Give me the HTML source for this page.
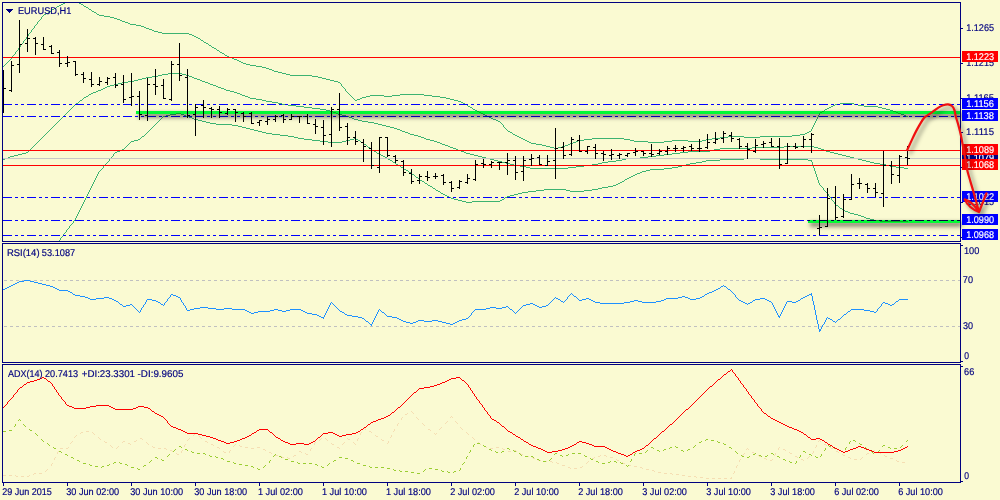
<!DOCTYPE html>
<html><head><meta charset="utf-8"><title>EURUSD,H1</title>
<style>html,body{margin:0;padding:0;background:#FAFAD2;overflow:hidden}svg{display:block}text{font-family:"Liberation Sans",sans-serif;text-rendering:geometricPrecision}</style>
</head><body>
<svg width="1000" height="500" viewBox="0 0 1000 500">
<defs>
<filter id="sh" x="-20%" y="-400%" width="140%" height="900%"><feGaussianBlur stdDeviation="2.2"/></filter>
<filter id="sh2" x="-30%" y="-30%" width="160%" height="160%"><feGaussianBlur stdDeviation="2"/></filter>
</defs>
<rect x="0" y="0" width="1000" height="500" fill="#FAFAD2"/>
<clipPath id="c1"><rect x="3" y="3" width="957" height="238"/></clipPath>
<clipPath id="c2"><rect x="3" y="244" width="957" height="118"/></clipPath>
<clipPath id="c3"><rect x="3" y="365" width="957" height="117"/></clipPath>
<g clip-path="url(#c1)">
<path d="M12.5 56v2M15.5 52v2M18.5 48v2M20.5 45v2M23.5 41v2M26.5 37v2M28.5 34v2M31.5 30v2M34.5 26v2M37.5 22v2M41.5 17v2M341.5 84v2M345.5 89v2M503.5 125v2M811.5 129v2M812.5 127v2M813.5 125v2M814.5 123v2M815.5 121v2M816.5 119v2M817.5 117v2M818.5 115v2M819.5 113v2M63 3.5h2M79 3.5h2M61 4.5h2M81 4.5h2M59 5.5h2M83 5.5h1M57 6.5h2M84 6.5h2M56 7.5h1M86 7.5h2M54 8.5h2M88 8.5h1M52 9.5h2M89 9.5h2M51 10.5h1M91 10.5h1M49 11.5h2M92 11.5h2M48 12.5h1M94 12.5h2M46 13.5h2M96 13.5h1M44 14.5h2M97 14.5h2M43 15.5h1M99 15.5h5M42 16.5h1M104 16.5h6M110 17.5h4M114 18.5h3M40 19.5h1M117 19.5h3M39 20.5h1M120 20.5h2M38 21.5h1M122 21.5h3M125 22.5h3M128 23.5h2M36 24.5h1M130 24.5h6M35 25.5h1M136 25.5h5M141 26.5h3M144 27.5h2M33 28.5h1M146 28.5h3M32 29.5h1M149 29.5h3M152 30.5h2M154 31.5h4M30 32.5h1M158 32.5h4M29 33.5h1M162 33.5h27M189 34.5h3M192 35.5h2M27 36.5h1M194 36.5h2M196 37.5h2M198 38.5h2M25 39.5h1M200 39.5h1M24 40.5h1M201 40.5h2M203 41.5h1M204 42.5h2M22 43.5h1M206 43.5h2M21 44.5h1M208 44.5h1M209 45.5h2M211 46.5h1M19 47.5h1M212 47.5h2M214 48.5h2M216 49.5h1M17 50.5h1M217 50.5h2M16 51.5h1M219 51.5h1M220 52.5h2M222 53.5h2M14 54.5h1M224 54.5h1M13 55.5h1M225 55.5h2M227 56.5h2M229 57.5h3M11 58.5h1M232 58.5h2M10 59.5h1M234 59.5h3M9 60.5h1M237 60.5h2M8 61.5h1M239 61.5h2M7 62.5h1M241 62.5h2M6 63.5h1M243 63.5h3M5 64.5h1M246 64.5h4M4 65.5h1M250 65.5h6M3 66.5h1M256 66.5h6M262 67.5h4M266 68.5h3M269 69.5h3M272 70.5h2M274 71.5h4M278 72.5h4M282 73.5h4M286 74.5h4M290 75.5h22M312 76.5h6M318 77.5h4M322 78.5h4M326 79.5h4M330 80.5h4M334 81.5h4M338 82.5h2M340 83.5h1M342 86.5h1M343 87.5h1M344 88.5h1M346 91.5h1M347 92.5h1M348 93.5h1M349 94.5h1M400 94.5h24M350 95.5h1M370 95.5h14M392 95.5h8M424 95.5h8M351 96.5h1M366 96.5h4M384 96.5h8M432 96.5h8M352 97.5h1M362 97.5h4M440 97.5h6M353 98.5h1M360 98.5h2M446 98.5h4M354 99.5h1M357 99.5h3M450 99.5h4M355 100.5h2M454 100.5h4M458 101.5h3M461 102.5h2M463 103.5h2M840 103.5h14M465 104.5h2M835 104.5h5M854 104.5h4M467 105.5h1M833 105.5h2M858 105.5h6M468 106.5h2M831 106.5h2M864 106.5h14M470 107.5h2M829 107.5h2M878 107.5h4M472 108.5h1M827 108.5h2M882 108.5h4M473 109.5h2M825 109.5h2M886 109.5h4M475 110.5h2M824 110.5h1M890 110.5h3M477 111.5h2M822 111.5h2M893 111.5h3M479 112.5h2M820 112.5h2M896 112.5h2M481 113.5h2M898 113.5h3M483 114.5h2M901 114.5h3M485 115.5h2M904 115.5h2M487 116.5h2M906 116.5h2M489 117.5h2M491 118.5h2M493 119.5h3M496 120.5h2M498 121.5h2M500 122.5h1M501 123.5h1M502 124.5h1M504 127.5h1M505 128.5h1M506 129.5h1M507 130.5h1M508 131.5h2M809 131.5h2M510 132.5h2M807 132.5h2M512 133.5h1M805 133.5h2M513 134.5h2M800 134.5h5M515 135.5h2M792 135.5h8M517 136.5h2M728 136.5h16M760 136.5h32M519 137.5h2M720 137.5h8M744 137.5h16M521 138.5h2M592 138.5h32M712 138.5h8M523 139.5h2M584 139.5h8M624 139.5h6M706 139.5h6M525 140.5h2M578 140.5h6M630 140.5h4M672 140.5h16M702 140.5h4M527 141.5h2M576 141.5h2M634 141.5h14M664 141.5h8M688 141.5h14M529 142.5h2M573 142.5h3M648 142.5h16M531 143.5h5M570 143.5h3M536 144.5h6M568 144.5h2M542 145.5h4M565 145.5h3M546 146.5h4M562 146.5h3M550 147.5h4M558 147.5h4M554 148.5h4" fill="none" stroke="#3CB371" stroke-width="1" shape-rendering="crispEdges"/>
<path d="M168 73.5h14M162 74.5h6M182 74.5h4M158 75.5h4M186 75.5h3M152 76.5h6M189 76.5h3M146 77.5h6M192 77.5h2M142 78.5h4M194 78.5h3M138 79.5h4M197 79.5h3M134 80.5h4M200 80.5h2M128 81.5h6M202 81.5h3M122 82.5h6M205 82.5h3M118 83.5h4M208 83.5h2M114 84.5h4M210 84.5h3M110 85.5h4M213 85.5h3M107 86.5h3M216 86.5h2M105 87.5h2M218 87.5h3M103 88.5h2M221 88.5h3M101 89.5h2M224 89.5h2M98 90.5h3M226 90.5h4M96 91.5h2M230 91.5h4M93 92.5h3M234 92.5h3M91 93.5h2M237 93.5h3M89 94.5h2M240 94.5h2M88 95.5h1M242 95.5h3M86 96.5h2M245 96.5h3M84 97.5h2M248 97.5h2M83 98.5h1M250 98.5h6M82 99.5h1M256 99.5h6M80 100.5h2M262 100.5h4M79 101.5h1M266 101.5h6M78 102.5h1M272 102.5h6M76 103.5h2M278 103.5h4M75 104.5h1M282 104.5h6M74 105.5h1M288 105.5h8M73 106.5h1M296 106.5h8M72 107.5h1M304 107.5h8M71 108.5h1M312 108.5h8M70 109.5h1M320 109.5h6M69 110.5h1M326 110.5h4M68 111.5h1M330 111.5h3M67 112.5h1M333 112.5h3M66 113.5h1M336 113.5h2M65 114.5h1M338 114.5h4M64 115.5h1M342 115.5h4M63 116.5h1M346 116.5h3M62 117.5h1M349 117.5h3M61 118.5h1M352 118.5h2M60 119.5h1M354 119.5h4M59 120.5h1M358 120.5h4M58 121.5h1M362 121.5h6M57 122.5h1M368 122.5h6M56 123.5h1M374 123.5h4M55 124.5h1M378 124.5h4M54 125.5h1M382 125.5h4M53 126.5h1M386 126.5h4M52 127.5h1M390 127.5h4M51 128.5h1M394 128.5h3M50 129.5h1M397 129.5h3M49 130.5h1M400 130.5h2M48 131.5h1M402 131.5h3M47 132.5h1M405 132.5h3M46 133.5h1M408 133.5h2M45 134.5h1M410 134.5h4M44 135.5h1M414 135.5h4M43 136.5h1M418 136.5h3M42 137.5h1M421 137.5h3M41 138.5h1M424 138.5h2M40 139.5h1M426 139.5h4M39 140.5h1M430 140.5h4M38 141.5h1M434 141.5h3M37 142.5h1M437 142.5h3M36 143.5h1M440 143.5h2M35 144.5h1M442 144.5h3M34 145.5h1M445 145.5h3M33 146.5h1M448 146.5h2M784 146.5h30M32 147.5h1M450 147.5h3M752 147.5h32M814 147.5h4M31 148.5h1M453 148.5h3M720 148.5h32M818 148.5h3M30 149.5h1M456 149.5h2M714 149.5h6M821 149.5h3M29 150.5h1M458 150.5h3M710 150.5h4M824 150.5h2M28 151.5h1M461 151.5h3M688 151.5h22M826 151.5h4M26 152.5h2M464 152.5h2M680 152.5h8M830 152.5h4M22 153.5h4M466 153.5h4M672 153.5h8M834 153.5h4M18 154.5h4M470 154.5h4M664 154.5h8M838 154.5h4M14 155.5h4M474 155.5h4M656 155.5h8M842 155.5h4M10 156.5h4M478 156.5h4M648 156.5h8M846 156.5h4M8 157.5h2M482 157.5h4M640 157.5h8M850 157.5h4M5 158.5h3M486 158.5h4M626 158.5h14M854 158.5h4M3 159.5h2M490 159.5h4M622 159.5h4M858 159.5h4M494 160.5h4M616 160.5h6M862 160.5h4M498 161.5h4M608 161.5h8M866 161.5h4M502 162.5h4M602 162.5h6M870 162.5h4M506 163.5h4M598 163.5h4M874 163.5h6M510 164.5h4M592 164.5h6M880 164.5h6M514 165.5h6M584 165.5h8M886 165.5h4M520 166.5h6M576 166.5h8M890 166.5h6M526 167.5h4M568 167.5h8M896 167.5h8M530 168.5h38M904 168.5h4" fill="none" stroke="#3CB371" stroke-width="1" shape-rendering="crispEdges"/>
<path d="M60.5 238v2M63.5 234v2M66.5 230v2M69.5 226v2M73.5 221v2M75.5 218v2M76.5 216v2M77.5 214v2M78.5 212v2M79.5 210v2M80.5 208v2M81.5 206v2M82.5 204v2M83.5 202v2M84.5 200v2M85.5 198v2M86.5 196v2M87.5 194v2M88.5 192v2M89.5 190v2M90.5 188v2M91.5 186v2M92.5 184v2M93.5 182v2M94.5 180v2M95.5 178v2M96.5 176v2M97.5 174v2M98.5 172v2M103.5 166v2M109.5 159v2M113.5 154v2M811.5 160v2M812.5 162v3M813.5 165v3M814.5 168v3M815.5 171v3M816.5 174v3M817.5 177v3M818.5 180v3M819.5 183v2M823.5 188v2M828.5 194v2M831.5 198v2M834.5 202v2M176 113.5h5M170 114.5h6M181 114.5h3M166 115.5h4M184 115.5h2M163 116.5h3M186 116.5h3M162 117.5h1M189 117.5h3M161 118.5h1M192 118.5h2M160 119.5h1M194 119.5h4M159 120.5h1M198 120.5h4M158 121.5h1M202 121.5h4M157 122.5h1M206 122.5h4M156 123.5h1M210 123.5h6M155 124.5h1M216 124.5h16M154 125.5h1M232 125.5h6M153 126.5h1M238 126.5h4M152 127.5h1M242 127.5h4M151 128.5h1M246 128.5h4M150 129.5h1M250 129.5h4M149 130.5h1M254 130.5h4M148 131.5h1M258 131.5h4M147 132.5h1M262 132.5h4M146 133.5h1M266 133.5h6M145 134.5h1M272 134.5h8M144 135.5h1M280 135.5h8M142 136.5h2M288 136.5h6M141 137.5h1M294 137.5h4M140 138.5h1M298 138.5h6M354 138.5h2M138 139.5h2M304 139.5h8M350 139.5h4M356 139.5h2M134 140.5h4M312 140.5h8M346 140.5h4M358 140.5h2M131 141.5h3M320 141.5h8M342 141.5h4M360 141.5h1M130 142.5h1M328 142.5h14M361 142.5h2M129 143.5h1M363 143.5h1M128 144.5h1M364 144.5h2M127 145.5h1M366 145.5h1M126 146.5h1M367 146.5h1M125 147.5h1M368 147.5h2M124 148.5h1M370 148.5h1M122 149.5h2M371 149.5h1M120 150.5h2M372 150.5h2M117 151.5h3M374 151.5h2M115 152.5h2M376 152.5h1M114 153.5h1M377 153.5h2M379 154.5h2M381 155.5h2M112 156.5h1M383 156.5h2M111 157.5h1M385 157.5h2M110 158.5h1M387 158.5h1M744 158.5h16M388 159.5h2M720 159.5h24M760 159.5h48M390 160.5h2M706 160.5h14M808 160.5h3M108 161.5h1M392 161.5h1M702 161.5h4M107 162.5h1M393 162.5h2M696 162.5h6M106 163.5h1M395 163.5h1M690 163.5h6M105 164.5h1M396 164.5h2M686 164.5h4M104 165.5h1M398 165.5h2M682 165.5h4M400 166.5h1M678 166.5h4M401 167.5h2M672 167.5h6M102 168.5h1M403 168.5h1M664 168.5h8M101 169.5h1M404 169.5h2M650 169.5h14M100 170.5h1M406 170.5h2M646 170.5h4M99 171.5h1M408 171.5h1M642 171.5h4M409 172.5h2M640 172.5h2M411 173.5h1M637 173.5h3M412 174.5h2M635 174.5h2M414 175.5h1M633 175.5h2M415 176.5h1M631 176.5h2M416 177.5h2M629 177.5h2M418 178.5h1M627 178.5h2M419 179.5h1M625 179.5h2M420 180.5h2M624 180.5h1M422 181.5h2M622 181.5h2M424 182.5h1M620 182.5h2M425 183.5h2M618 183.5h2M427 184.5h1M616 184.5h2M428 185.5h2M613 185.5h3M820 185.5h1M430 186.5h2M608 186.5h5M821 186.5h1M432 187.5h1M602 187.5h6M822 187.5h1M433 188.5h2M598 188.5h4M435 189.5h1M544 189.5h22M592 189.5h6M436 190.5h2M536 190.5h8M566 190.5h4M584 190.5h8M824 190.5h1M438 191.5h2M528 191.5h8M570 191.5h14M825 191.5h1M440 192.5h1M522 192.5h6M826 192.5h1M441 193.5h2M518 193.5h4M827 193.5h1M443 194.5h2M514 194.5h4M445 195.5h2M510 195.5h4M447 196.5h2M507 196.5h3M829 196.5h1M449 197.5h2M505 197.5h2M830 197.5h1M451 198.5h3M504 198.5h1M454 199.5h4M502 199.5h2M458 200.5h4M500 200.5h2M832 200.5h1M462 201.5h4M472 201.5h28M833 201.5h1M466 202.5h6M835 204.5h1M836 205.5h2M838 206.5h1M839 207.5h1M840 208.5h2M842 209.5h1M843 210.5h2M845 211.5h3M848 212.5h2M850 213.5h4M854 214.5h4M858 215.5h3M861 216.5h3M864 217.5h2M866 218.5h4M870 219.5h4M74 220.5h1M874 220.5h6M880 221.5h28M72 223.5h1M71 224.5h1M70 225.5h1M68 228.5h1M67 229.5h1M65 232.5h1M64 233.5h1M62 236.5h1M61 237.5h1M59 240.5h1" fill="none" stroke="#3CB371" stroke-width="1" shape-rendering="crispEdges"/>
<rect x="3" y="158" width="957" height="1" fill="#C8C8C8"/>
<rect x="3" y="57" width="957" height="1" fill="#FF0000"/>
<rect x="3" y="150" width="957" height="1" fill="#FF0000"/>
<rect x="3" y="165" width="957" height="1" fill="#FF0000"/>
<rect x="3" y="104" width="9" height="1" fill="#0000FF"/>
<rect x="15" y="104" width="3" height="1" fill="#0000FF"/>
<rect x="21" y="104" width="3" height="1" fill="#0000FF"/>
<rect x="27" y="104" width="9" height="1" fill="#0000FF"/>
<rect x="39" y="104" width="3" height="1" fill="#0000FF"/>
<rect x="45" y="104" width="3" height="1" fill="#0000FF"/>
<rect x="51" y="104" width="9" height="1" fill="#0000FF"/>
<rect x="63" y="104" width="3" height="1" fill="#0000FF"/>
<rect x="69" y="104" width="3" height="1" fill="#0000FF"/>
<rect x="75" y="104" width="9" height="1" fill="#0000FF"/>
<rect x="87" y="104" width="3" height="1" fill="#0000FF"/>
<rect x="93" y="104" width="3" height="1" fill="#0000FF"/>
<rect x="99" y="104" width="9" height="1" fill="#0000FF"/>
<rect x="111" y="104" width="3" height="1" fill="#0000FF"/>
<rect x="117" y="104" width="3" height="1" fill="#0000FF"/>
<rect x="123" y="104" width="9" height="1" fill="#0000FF"/>
<rect x="135" y="104" width="3" height="1" fill="#0000FF"/>
<rect x="141" y="104" width="3" height="1" fill="#0000FF"/>
<rect x="147" y="104" width="9" height="1" fill="#0000FF"/>
<rect x="159" y="104" width="3" height="1" fill="#0000FF"/>
<rect x="165" y="104" width="3" height="1" fill="#0000FF"/>
<rect x="171" y="104" width="9" height="1" fill="#0000FF"/>
<rect x="183" y="104" width="3" height="1" fill="#0000FF"/>
<rect x="189" y="104" width="3" height="1" fill="#0000FF"/>
<rect x="195" y="104" width="9" height="1" fill="#0000FF"/>
<rect x="207" y="104" width="3" height="1" fill="#0000FF"/>
<rect x="213" y="104" width="3" height="1" fill="#0000FF"/>
<rect x="219" y="104" width="9" height="1" fill="#0000FF"/>
<rect x="231" y="104" width="3" height="1" fill="#0000FF"/>
<rect x="237" y="104" width="3" height="1" fill="#0000FF"/>
<rect x="243" y="104" width="9" height="1" fill="#0000FF"/>
<rect x="255" y="104" width="3" height="1" fill="#0000FF"/>
<rect x="261" y="104" width="3" height="1" fill="#0000FF"/>
<rect x="267" y="104" width="9" height="1" fill="#0000FF"/>
<rect x="279" y="104" width="3" height="1" fill="#0000FF"/>
<rect x="285" y="104" width="3" height="1" fill="#0000FF"/>
<rect x="291" y="104" width="9" height="1" fill="#0000FF"/>
<rect x="303" y="104" width="3" height="1" fill="#0000FF"/>
<rect x="309" y="104" width="3" height="1" fill="#0000FF"/>
<rect x="315" y="104" width="9" height="1" fill="#0000FF"/>
<rect x="327" y="104" width="3" height="1" fill="#0000FF"/>
<rect x="333" y="104" width="3" height="1" fill="#0000FF"/>
<rect x="339" y="104" width="9" height="1" fill="#0000FF"/>
<rect x="351" y="104" width="3" height="1" fill="#0000FF"/>
<rect x="357" y="104" width="3" height="1" fill="#0000FF"/>
<rect x="363" y="104" width="9" height="1" fill="#0000FF"/>
<rect x="375" y="104" width="3" height="1" fill="#0000FF"/>
<rect x="381" y="104" width="3" height="1" fill="#0000FF"/>
<rect x="387" y="104" width="9" height="1" fill="#0000FF"/>
<rect x="399" y="104" width="3" height="1" fill="#0000FF"/>
<rect x="405" y="104" width="3" height="1" fill="#0000FF"/>
<rect x="411" y="104" width="9" height="1" fill="#0000FF"/>
<rect x="423" y="104" width="3" height="1" fill="#0000FF"/>
<rect x="429" y="104" width="3" height="1" fill="#0000FF"/>
<rect x="435" y="104" width="9" height="1" fill="#0000FF"/>
<rect x="447" y="104" width="3" height="1" fill="#0000FF"/>
<rect x="453" y="104" width="3" height="1" fill="#0000FF"/>
<rect x="459" y="104" width="9" height="1" fill="#0000FF"/>
<rect x="471" y="104" width="3" height="1" fill="#0000FF"/>
<rect x="477" y="104" width="3" height="1" fill="#0000FF"/>
<rect x="483" y="104" width="9" height="1" fill="#0000FF"/>
<rect x="495" y="104" width="3" height="1" fill="#0000FF"/>
<rect x="501" y="104" width="3" height="1" fill="#0000FF"/>
<rect x="507" y="104" width="9" height="1" fill="#0000FF"/>
<rect x="519" y="104" width="3" height="1" fill="#0000FF"/>
<rect x="525" y="104" width="3" height="1" fill="#0000FF"/>
<rect x="531" y="104" width="9" height="1" fill="#0000FF"/>
<rect x="543" y="104" width="3" height="1" fill="#0000FF"/>
<rect x="549" y="104" width="3" height="1" fill="#0000FF"/>
<rect x="555" y="104" width="9" height="1" fill="#0000FF"/>
<rect x="567" y="104" width="3" height="1" fill="#0000FF"/>
<rect x="573" y="104" width="3" height="1" fill="#0000FF"/>
<rect x="579" y="104" width="9" height="1" fill="#0000FF"/>
<rect x="591" y="104" width="3" height="1" fill="#0000FF"/>
<rect x="597" y="104" width="3" height="1" fill="#0000FF"/>
<rect x="603" y="104" width="9" height="1" fill="#0000FF"/>
<rect x="615" y="104" width="3" height="1" fill="#0000FF"/>
<rect x="621" y="104" width="3" height="1" fill="#0000FF"/>
<rect x="627" y="104" width="9" height="1" fill="#0000FF"/>
<rect x="639" y="104" width="3" height="1" fill="#0000FF"/>
<rect x="645" y="104" width="3" height="1" fill="#0000FF"/>
<rect x="651" y="104" width="9" height="1" fill="#0000FF"/>
<rect x="663" y="104" width="3" height="1" fill="#0000FF"/>
<rect x="669" y="104" width="3" height="1" fill="#0000FF"/>
<rect x="675" y="104" width="9" height="1" fill="#0000FF"/>
<rect x="687" y="104" width="3" height="1" fill="#0000FF"/>
<rect x="693" y="104" width="3" height="1" fill="#0000FF"/>
<rect x="699" y="104" width="9" height="1" fill="#0000FF"/>
<rect x="711" y="104" width="3" height="1" fill="#0000FF"/>
<rect x="717" y="104" width="3" height="1" fill="#0000FF"/>
<rect x="723" y="104" width="9" height="1" fill="#0000FF"/>
<rect x="735" y="104" width="3" height="1" fill="#0000FF"/>
<rect x="741" y="104" width="3" height="1" fill="#0000FF"/>
<rect x="747" y="104" width="9" height="1" fill="#0000FF"/>
<rect x="759" y="104" width="3" height="1" fill="#0000FF"/>
<rect x="765" y="104" width="3" height="1" fill="#0000FF"/>
<rect x="771" y="104" width="9" height="1" fill="#0000FF"/>
<rect x="783" y="104" width="3" height="1" fill="#0000FF"/>
<rect x="789" y="104" width="3" height="1" fill="#0000FF"/>
<rect x="795" y="104" width="9" height="1" fill="#0000FF"/>
<rect x="807" y="104" width="3" height="1" fill="#0000FF"/>
<rect x="813" y="104" width="3" height="1" fill="#0000FF"/>
<rect x="819" y="104" width="9" height="1" fill="#0000FF"/>
<rect x="831" y="104" width="3" height="1" fill="#0000FF"/>
<rect x="837" y="104" width="3" height="1" fill="#0000FF"/>
<rect x="843" y="104" width="9" height="1" fill="#0000FF"/>
<rect x="855" y="104" width="3" height="1" fill="#0000FF"/>
<rect x="861" y="104" width="3" height="1" fill="#0000FF"/>
<rect x="867" y="104" width="9" height="1" fill="#0000FF"/>
<rect x="879" y="104" width="3" height="1" fill="#0000FF"/>
<rect x="885" y="104" width="3" height="1" fill="#0000FF"/>
<rect x="891" y="104" width="9" height="1" fill="#0000FF"/>
<rect x="903" y="104" width="3" height="1" fill="#0000FF"/>
<rect x="909" y="104" width="3" height="1" fill="#0000FF"/>
<rect x="915" y="104" width="9" height="1" fill="#0000FF"/>
<rect x="927" y="104" width="3" height="1" fill="#0000FF"/>
<rect x="933" y="104" width="3" height="1" fill="#0000FF"/>
<rect x="939" y="104" width="9" height="1" fill="#0000FF"/>
<rect x="951" y="104" width="3" height="1" fill="#0000FF"/>
<rect x="957" y="104" width="3" height="1" fill="#0000FF"/>
<rect x="3" y="116" width="9" height="1" fill="#0000FF"/>
<rect x="15" y="116" width="3" height="1" fill="#0000FF"/>
<rect x="21" y="116" width="3" height="1" fill="#0000FF"/>
<rect x="27" y="116" width="9" height="1" fill="#0000FF"/>
<rect x="39" y="116" width="3" height="1" fill="#0000FF"/>
<rect x="45" y="116" width="3" height="1" fill="#0000FF"/>
<rect x="51" y="116" width="9" height="1" fill="#0000FF"/>
<rect x="63" y="116" width="3" height="1" fill="#0000FF"/>
<rect x="69" y="116" width="3" height="1" fill="#0000FF"/>
<rect x="75" y="116" width="9" height="1" fill="#0000FF"/>
<rect x="87" y="116" width="3" height="1" fill="#0000FF"/>
<rect x="93" y="116" width="3" height="1" fill="#0000FF"/>
<rect x="99" y="116" width="9" height="1" fill="#0000FF"/>
<rect x="111" y="116" width="3" height="1" fill="#0000FF"/>
<rect x="117" y="116" width="3" height="1" fill="#0000FF"/>
<rect x="123" y="116" width="9" height="1" fill="#0000FF"/>
<rect x="135" y="116" width="3" height="1" fill="#0000FF"/>
<rect x="141" y="116" width="3" height="1" fill="#0000FF"/>
<rect x="147" y="116" width="9" height="1" fill="#0000FF"/>
<rect x="159" y="116" width="3" height="1" fill="#0000FF"/>
<rect x="165" y="116" width="3" height="1" fill="#0000FF"/>
<rect x="171" y="116" width="9" height="1" fill="#0000FF"/>
<rect x="183" y="116" width="3" height="1" fill="#0000FF"/>
<rect x="189" y="116" width="3" height="1" fill="#0000FF"/>
<rect x="195" y="116" width="9" height="1" fill="#0000FF"/>
<rect x="207" y="116" width="3" height="1" fill="#0000FF"/>
<rect x="213" y="116" width="3" height="1" fill="#0000FF"/>
<rect x="219" y="116" width="9" height="1" fill="#0000FF"/>
<rect x="231" y="116" width="3" height="1" fill="#0000FF"/>
<rect x="237" y="116" width="3" height="1" fill="#0000FF"/>
<rect x="243" y="116" width="9" height="1" fill="#0000FF"/>
<rect x="255" y="116" width="3" height="1" fill="#0000FF"/>
<rect x="261" y="116" width="3" height="1" fill="#0000FF"/>
<rect x="267" y="116" width="9" height="1" fill="#0000FF"/>
<rect x="279" y="116" width="3" height="1" fill="#0000FF"/>
<rect x="285" y="116" width="3" height="1" fill="#0000FF"/>
<rect x="291" y="116" width="9" height="1" fill="#0000FF"/>
<rect x="303" y="116" width="3" height="1" fill="#0000FF"/>
<rect x="309" y="116" width="3" height="1" fill="#0000FF"/>
<rect x="315" y="116" width="9" height="1" fill="#0000FF"/>
<rect x="327" y="116" width="3" height="1" fill="#0000FF"/>
<rect x="333" y="116" width="3" height="1" fill="#0000FF"/>
<rect x="339" y="116" width="9" height="1" fill="#0000FF"/>
<rect x="351" y="116" width="3" height="1" fill="#0000FF"/>
<rect x="357" y="116" width="3" height="1" fill="#0000FF"/>
<rect x="363" y="116" width="9" height="1" fill="#0000FF"/>
<rect x="375" y="116" width="3" height="1" fill="#0000FF"/>
<rect x="381" y="116" width="3" height="1" fill="#0000FF"/>
<rect x="387" y="116" width="9" height="1" fill="#0000FF"/>
<rect x="399" y="116" width="3" height="1" fill="#0000FF"/>
<rect x="405" y="116" width="3" height="1" fill="#0000FF"/>
<rect x="411" y="116" width="9" height="1" fill="#0000FF"/>
<rect x="423" y="116" width="3" height="1" fill="#0000FF"/>
<rect x="429" y="116" width="3" height="1" fill="#0000FF"/>
<rect x="435" y="116" width="9" height="1" fill="#0000FF"/>
<rect x="447" y="116" width="3" height="1" fill="#0000FF"/>
<rect x="453" y="116" width="3" height="1" fill="#0000FF"/>
<rect x="459" y="116" width="9" height="1" fill="#0000FF"/>
<rect x="471" y="116" width="3" height="1" fill="#0000FF"/>
<rect x="477" y="116" width="3" height="1" fill="#0000FF"/>
<rect x="483" y="116" width="9" height="1" fill="#0000FF"/>
<rect x="495" y="116" width="3" height="1" fill="#0000FF"/>
<rect x="501" y="116" width="3" height="1" fill="#0000FF"/>
<rect x="507" y="116" width="9" height="1" fill="#0000FF"/>
<rect x="519" y="116" width="3" height="1" fill="#0000FF"/>
<rect x="525" y="116" width="3" height="1" fill="#0000FF"/>
<rect x="531" y="116" width="9" height="1" fill="#0000FF"/>
<rect x="543" y="116" width="3" height="1" fill="#0000FF"/>
<rect x="549" y="116" width="3" height="1" fill="#0000FF"/>
<rect x="555" y="116" width="9" height="1" fill="#0000FF"/>
<rect x="567" y="116" width="3" height="1" fill="#0000FF"/>
<rect x="573" y="116" width="3" height="1" fill="#0000FF"/>
<rect x="579" y="116" width="9" height="1" fill="#0000FF"/>
<rect x="591" y="116" width="3" height="1" fill="#0000FF"/>
<rect x="597" y="116" width="3" height="1" fill="#0000FF"/>
<rect x="603" y="116" width="9" height="1" fill="#0000FF"/>
<rect x="615" y="116" width="3" height="1" fill="#0000FF"/>
<rect x="621" y="116" width="3" height="1" fill="#0000FF"/>
<rect x="627" y="116" width="9" height="1" fill="#0000FF"/>
<rect x="639" y="116" width="3" height="1" fill="#0000FF"/>
<rect x="645" y="116" width="3" height="1" fill="#0000FF"/>
<rect x="651" y="116" width="9" height="1" fill="#0000FF"/>
<rect x="663" y="116" width="3" height="1" fill="#0000FF"/>
<rect x="669" y="116" width="3" height="1" fill="#0000FF"/>
<rect x="675" y="116" width="9" height="1" fill="#0000FF"/>
<rect x="687" y="116" width="3" height="1" fill="#0000FF"/>
<rect x="693" y="116" width="3" height="1" fill="#0000FF"/>
<rect x="699" y="116" width="9" height="1" fill="#0000FF"/>
<rect x="711" y="116" width="3" height="1" fill="#0000FF"/>
<rect x="717" y="116" width="3" height="1" fill="#0000FF"/>
<rect x="723" y="116" width="9" height="1" fill="#0000FF"/>
<rect x="735" y="116" width="3" height="1" fill="#0000FF"/>
<rect x="741" y="116" width="3" height="1" fill="#0000FF"/>
<rect x="747" y="116" width="9" height="1" fill="#0000FF"/>
<rect x="759" y="116" width="3" height="1" fill="#0000FF"/>
<rect x="765" y="116" width="3" height="1" fill="#0000FF"/>
<rect x="771" y="116" width="9" height="1" fill="#0000FF"/>
<rect x="783" y="116" width="3" height="1" fill="#0000FF"/>
<rect x="789" y="116" width="3" height="1" fill="#0000FF"/>
<rect x="795" y="116" width="9" height="1" fill="#0000FF"/>
<rect x="807" y="116" width="3" height="1" fill="#0000FF"/>
<rect x="813" y="116" width="3" height="1" fill="#0000FF"/>
<rect x="819" y="116" width="9" height="1" fill="#0000FF"/>
<rect x="831" y="116" width="3" height="1" fill="#0000FF"/>
<rect x="837" y="116" width="3" height="1" fill="#0000FF"/>
<rect x="843" y="116" width="9" height="1" fill="#0000FF"/>
<rect x="855" y="116" width="3" height="1" fill="#0000FF"/>
<rect x="861" y="116" width="3" height="1" fill="#0000FF"/>
<rect x="867" y="116" width="9" height="1" fill="#0000FF"/>
<rect x="879" y="116" width="3" height="1" fill="#0000FF"/>
<rect x="885" y="116" width="3" height="1" fill="#0000FF"/>
<rect x="891" y="116" width="9" height="1" fill="#0000FF"/>
<rect x="903" y="116" width="3" height="1" fill="#0000FF"/>
<rect x="909" y="116" width="3" height="1" fill="#0000FF"/>
<rect x="915" y="116" width="9" height="1" fill="#0000FF"/>
<rect x="927" y="116" width="3" height="1" fill="#0000FF"/>
<rect x="933" y="116" width="3" height="1" fill="#0000FF"/>
<rect x="939" y="116" width="9" height="1" fill="#0000FF"/>
<rect x="951" y="116" width="3" height="1" fill="#0000FF"/>
<rect x="957" y="116" width="3" height="1" fill="#0000FF"/>
<rect x="3" y="197" width="9" height="1" fill="#0000FF"/>
<rect x="15" y="197" width="3" height="1" fill="#0000FF"/>
<rect x="21" y="197" width="3" height="1" fill="#0000FF"/>
<rect x="27" y="197" width="9" height="1" fill="#0000FF"/>
<rect x="39" y="197" width="3" height="1" fill="#0000FF"/>
<rect x="45" y="197" width="3" height="1" fill="#0000FF"/>
<rect x="51" y="197" width="9" height="1" fill="#0000FF"/>
<rect x="63" y="197" width="3" height="1" fill="#0000FF"/>
<rect x="69" y="197" width="3" height="1" fill="#0000FF"/>
<rect x="75" y="197" width="9" height="1" fill="#0000FF"/>
<rect x="87" y="197" width="3" height="1" fill="#0000FF"/>
<rect x="93" y="197" width="3" height="1" fill="#0000FF"/>
<rect x="99" y="197" width="9" height="1" fill="#0000FF"/>
<rect x="111" y="197" width="3" height="1" fill="#0000FF"/>
<rect x="117" y="197" width="3" height="1" fill="#0000FF"/>
<rect x="123" y="197" width="9" height="1" fill="#0000FF"/>
<rect x="135" y="197" width="3" height="1" fill="#0000FF"/>
<rect x="141" y="197" width="3" height="1" fill="#0000FF"/>
<rect x="147" y="197" width="9" height="1" fill="#0000FF"/>
<rect x="159" y="197" width="3" height="1" fill="#0000FF"/>
<rect x="165" y="197" width="3" height="1" fill="#0000FF"/>
<rect x="171" y="197" width="9" height="1" fill="#0000FF"/>
<rect x="183" y="197" width="3" height="1" fill="#0000FF"/>
<rect x="189" y="197" width="3" height="1" fill="#0000FF"/>
<rect x="195" y="197" width="9" height="1" fill="#0000FF"/>
<rect x="207" y="197" width="3" height="1" fill="#0000FF"/>
<rect x="213" y="197" width="3" height="1" fill="#0000FF"/>
<rect x="219" y="197" width="9" height="1" fill="#0000FF"/>
<rect x="231" y="197" width="3" height="1" fill="#0000FF"/>
<rect x="237" y="197" width="3" height="1" fill="#0000FF"/>
<rect x="243" y="197" width="9" height="1" fill="#0000FF"/>
<rect x="255" y="197" width="3" height="1" fill="#0000FF"/>
<rect x="261" y="197" width="3" height="1" fill="#0000FF"/>
<rect x="267" y="197" width="9" height="1" fill="#0000FF"/>
<rect x="279" y="197" width="3" height="1" fill="#0000FF"/>
<rect x="285" y="197" width="3" height="1" fill="#0000FF"/>
<rect x="291" y="197" width="9" height="1" fill="#0000FF"/>
<rect x="303" y="197" width="3" height="1" fill="#0000FF"/>
<rect x="309" y="197" width="3" height="1" fill="#0000FF"/>
<rect x="315" y="197" width="9" height="1" fill="#0000FF"/>
<rect x="327" y="197" width="3" height="1" fill="#0000FF"/>
<rect x="333" y="197" width="3" height="1" fill="#0000FF"/>
<rect x="339" y="197" width="9" height="1" fill="#0000FF"/>
<rect x="351" y="197" width="3" height="1" fill="#0000FF"/>
<rect x="357" y="197" width="3" height="1" fill="#0000FF"/>
<rect x="363" y="197" width="9" height="1" fill="#0000FF"/>
<rect x="375" y="197" width="3" height="1" fill="#0000FF"/>
<rect x="381" y="197" width="3" height="1" fill="#0000FF"/>
<rect x="387" y="197" width="9" height="1" fill="#0000FF"/>
<rect x="399" y="197" width="3" height="1" fill="#0000FF"/>
<rect x="405" y="197" width="3" height="1" fill="#0000FF"/>
<rect x="411" y="197" width="9" height="1" fill="#0000FF"/>
<rect x="423" y="197" width="3" height="1" fill="#0000FF"/>
<rect x="429" y="197" width="3" height="1" fill="#0000FF"/>
<rect x="435" y="197" width="9" height="1" fill="#0000FF"/>
<rect x="447" y="197" width="3" height="1" fill="#0000FF"/>
<rect x="453" y="197" width="3" height="1" fill="#0000FF"/>
<rect x="459" y="197" width="9" height="1" fill="#0000FF"/>
<rect x="471" y="197" width="3" height="1" fill="#0000FF"/>
<rect x="477" y="197" width="3" height="1" fill="#0000FF"/>
<rect x="483" y="197" width="9" height="1" fill="#0000FF"/>
<rect x="495" y="197" width="3" height="1" fill="#0000FF"/>
<rect x="501" y="197" width="3" height="1" fill="#0000FF"/>
<rect x="507" y="197" width="9" height="1" fill="#0000FF"/>
<rect x="519" y="197" width="3" height="1" fill="#0000FF"/>
<rect x="525" y="197" width="3" height="1" fill="#0000FF"/>
<rect x="531" y="197" width="9" height="1" fill="#0000FF"/>
<rect x="543" y="197" width="3" height="1" fill="#0000FF"/>
<rect x="549" y="197" width="3" height="1" fill="#0000FF"/>
<rect x="555" y="197" width="9" height="1" fill="#0000FF"/>
<rect x="567" y="197" width="3" height="1" fill="#0000FF"/>
<rect x="573" y="197" width="3" height="1" fill="#0000FF"/>
<rect x="579" y="197" width="9" height="1" fill="#0000FF"/>
<rect x="591" y="197" width="3" height="1" fill="#0000FF"/>
<rect x="597" y="197" width="3" height="1" fill="#0000FF"/>
<rect x="603" y="197" width="9" height="1" fill="#0000FF"/>
<rect x="615" y="197" width="3" height="1" fill="#0000FF"/>
<rect x="621" y="197" width="3" height="1" fill="#0000FF"/>
<rect x="627" y="197" width="9" height="1" fill="#0000FF"/>
<rect x="639" y="197" width="3" height="1" fill="#0000FF"/>
<rect x="645" y="197" width="3" height="1" fill="#0000FF"/>
<rect x="651" y="197" width="9" height="1" fill="#0000FF"/>
<rect x="663" y="197" width="3" height="1" fill="#0000FF"/>
<rect x="669" y="197" width="3" height="1" fill="#0000FF"/>
<rect x="675" y="197" width="9" height="1" fill="#0000FF"/>
<rect x="687" y="197" width="3" height="1" fill="#0000FF"/>
<rect x="693" y="197" width="3" height="1" fill="#0000FF"/>
<rect x="699" y="197" width="9" height="1" fill="#0000FF"/>
<rect x="711" y="197" width="3" height="1" fill="#0000FF"/>
<rect x="717" y="197" width="3" height="1" fill="#0000FF"/>
<rect x="723" y="197" width="9" height="1" fill="#0000FF"/>
<rect x="735" y="197" width="3" height="1" fill="#0000FF"/>
<rect x="741" y="197" width="3" height="1" fill="#0000FF"/>
<rect x="747" y="197" width="9" height="1" fill="#0000FF"/>
<rect x="759" y="197" width="3" height="1" fill="#0000FF"/>
<rect x="765" y="197" width="3" height="1" fill="#0000FF"/>
<rect x="771" y="197" width="9" height="1" fill="#0000FF"/>
<rect x="783" y="197" width="3" height="1" fill="#0000FF"/>
<rect x="789" y="197" width="3" height="1" fill="#0000FF"/>
<rect x="795" y="197" width="9" height="1" fill="#0000FF"/>
<rect x="807" y="197" width="3" height="1" fill="#0000FF"/>
<rect x="813" y="197" width="3" height="1" fill="#0000FF"/>
<rect x="819" y="197" width="9" height="1" fill="#0000FF"/>
<rect x="831" y="197" width="3" height="1" fill="#0000FF"/>
<rect x="837" y="197" width="3" height="1" fill="#0000FF"/>
<rect x="843" y="197" width="9" height="1" fill="#0000FF"/>
<rect x="855" y="197" width="3" height="1" fill="#0000FF"/>
<rect x="861" y="197" width="3" height="1" fill="#0000FF"/>
<rect x="867" y="197" width="9" height="1" fill="#0000FF"/>
<rect x="879" y="197" width="3" height="1" fill="#0000FF"/>
<rect x="885" y="197" width="3" height="1" fill="#0000FF"/>
<rect x="891" y="197" width="9" height="1" fill="#0000FF"/>
<rect x="903" y="197" width="3" height="1" fill="#0000FF"/>
<rect x="909" y="197" width="3" height="1" fill="#0000FF"/>
<rect x="915" y="197" width="9" height="1" fill="#0000FF"/>
<rect x="927" y="197" width="3" height="1" fill="#0000FF"/>
<rect x="933" y="197" width="3" height="1" fill="#0000FF"/>
<rect x="939" y="197" width="9" height="1" fill="#0000FF"/>
<rect x="951" y="197" width="3" height="1" fill="#0000FF"/>
<rect x="957" y="197" width="3" height="1" fill="#0000FF"/>
<rect x="3" y="220" width="9" height="1" fill="#0000FF"/>
<rect x="15" y="220" width="3" height="1" fill="#0000FF"/>
<rect x="21" y="220" width="3" height="1" fill="#0000FF"/>
<rect x="27" y="220" width="9" height="1" fill="#0000FF"/>
<rect x="39" y="220" width="3" height="1" fill="#0000FF"/>
<rect x="45" y="220" width="3" height="1" fill="#0000FF"/>
<rect x="51" y="220" width="9" height="1" fill="#0000FF"/>
<rect x="63" y="220" width="3" height="1" fill="#0000FF"/>
<rect x="69" y="220" width="3" height="1" fill="#0000FF"/>
<rect x="75" y="220" width="9" height="1" fill="#0000FF"/>
<rect x="87" y="220" width="3" height="1" fill="#0000FF"/>
<rect x="93" y="220" width="3" height="1" fill="#0000FF"/>
<rect x="99" y="220" width="9" height="1" fill="#0000FF"/>
<rect x="111" y="220" width="3" height="1" fill="#0000FF"/>
<rect x="117" y="220" width="3" height="1" fill="#0000FF"/>
<rect x="123" y="220" width="9" height="1" fill="#0000FF"/>
<rect x="135" y="220" width="3" height="1" fill="#0000FF"/>
<rect x="141" y="220" width="3" height="1" fill="#0000FF"/>
<rect x="147" y="220" width="9" height="1" fill="#0000FF"/>
<rect x="159" y="220" width="3" height="1" fill="#0000FF"/>
<rect x="165" y="220" width="3" height="1" fill="#0000FF"/>
<rect x="171" y="220" width="9" height="1" fill="#0000FF"/>
<rect x="183" y="220" width="3" height="1" fill="#0000FF"/>
<rect x="189" y="220" width="3" height="1" fill="#0000FF"/>
<rect x="195" y="220" width="9" height="1" fill="#0000FF"/>
<rect x="207" y="220" width="3" height="1" fill="#0000FF"/>
<rect x="213" y="220" width="3" height="1" fill="#0000FF"/>
<rect x="219" y="220" width="9" height="1" fill="#0000FF"/>
<rect x="231" y="220" width="3" height="1" fill="#0000FF"/>
<rect x="237" y="220" width="3" height="1" fill="#0000FF"/>
<rect x="243" y="220" width="9" height="1" fill="#0000FF"/>
<rect x="255" y="220" width="3" height="1" fill="#0000FF"/>
<rect x="261" y="220" width="3" height="1" fill="#0000FF"/>
<rect x="267" y="220" width="9" height="1" fill="#0000FF"/>
<rect x="279" y="220" width="3" height="1" fill="#0000FF"/>
<rect x="285" y="220" width="3" height="1" fill="#0000FF"/>
<rect x="291" y="220" width="9" height="1" fill="#0000FF"/>
<rect x="303" y="220" width="3" height="1" fill="#0000FF"/>
<rect x="309" y="220" width="3" height="1" fill="#0000FF"/>
<rect x="315" y="220" width="9" height="1" fill="#0000FF"/>
<rect x="327" y="220" width="3" height="1" fill="#0000FF"/>
<rect x="333" y="220" width="3" height="1" fill="#0000FF"/>
<rect x="339" y="220" width="9" height="1" fill="#0000FF"/>
<rect x="351" y="220" width="3" height="1" fill="#0000FF"/>
<rect x="357" y="220" width="3" height="1" fill="#0000FF"/>
<rect x="363" y="220" width="9" height="1" fill="#0000FF"/>
<rect x="375" y="220" width="3" height="1" fill="#0000FF"/>
<rect x="381" y="220" width="3" height="1" fill="#0000FF"/>
<rect x="387" y="220" width="9" height="1" fill="#0000FF"/>
<rect x="399" y="220" width="3" height="1" fill="#0000FF"/>
<rect x="405" y="220" width="3" height="1" fill="#0000FF"/>
<rect x="411" y="220" width="9" height="1" fill="#0000FF"/>
<rect x="423" y="220" width="3" height="1" fill="#0000FF"/>
<rect x="429" y="220" width="3" height="1" fill="#0000FF"/>
<rect x="435" y="220" width="9" height="1" fill="#0000FF"/>
<rect x="447" y="220" width="3" height="1" fill="#0000FF"/>
<rect x="453" y="220" width="3" height="1" fill="#0000FF"/>
<rect x="459" y="220" width="9" height="1" fill="#0000FF"/>
<rect x="471" y="220" width="3" height="1" fill="#0000FF"/>
<rect x="477" y="220" width="3" height="1" fill="#0000FF"/>
<rect x="483" y="220" width="9" height="1" fill="#0000FF"/>
<rect x="495" y="220" width="3" height="1" fill="#0000FF"/>
<rect x="501" y="220" width="3" height="1" fill="#0000FF"/>
<rect x="507" y="220" width="9" height="1" fill="#0000FF"/>
<rect x="519" y="220" width="3" height="1" fill="#0000FF"/>
<rect x="525" y="220" width="3" height="1" fill="#0000FF"/>
<rect x="531" y="220" width="9" height="1" fill="#0000FF"/>
<rect x="543" y="220" width="3" height="1" fill="#0000FF"/>
<rect x="549" y="220" width="3" height="1" fill="#0000FF"/>
<rect x="555" y="220" width="9" height="1" fill="#0000FF"/>
<rect x="567" y="220" width="3" height="1" fill="#0000FF"/>
<rect x="573" y="220" width="3" height="1" fill="#0000FF"/>
<rect x="579" y="220" width="9" height="1" fill="#0000FF"/>
<rect x="591" y="220" width="3" height="1" fill="#0000FF"/>
<rect x="597" y="220" width="3" height="1" fill="#0000FF"/>
<rect x="603" y="220" width="9" height="1" fill="#0000FF"/>
<rect x="615" y="220" width="3" height="1" fill="#0000FF"/>
<rect x="621" y="220" width="3" height="1" fill="#0000FF"/>
<rect x="627" y="220" width="9" height="1" fill="#0000FF"/>
<rect x="639" y="220" width="3" height="1" fill="#0000FF"/>
<rect x="645" y="220" width="3" height="1" fill="#0000FF"/>
<rect x="651" y="220" width="9" height="1" fill="#0000FF"/>
<rect x="663" y="220" width="3" height="1" fill="#0000FF"/>
<rect x="669" y="220" width="3" height="1" fill="#0000FF"/>
<rect x="675" y="220" width="9" height="1" fill="#0000FF"/>
<rect x="687" y="220" width="3" height="1" fill="#0000FF"/>
<rect x="693" y="220" width="3" height="1" fill="#0000FF"/>
<rect x="699" y="220" width="9" height="1" fill="#0000FF"/>
<rect x="711" y="220" width="3" height="1" fill="#0000FF"/>
<rect x="717" y="220" width="3" height="1" fill="#0000FF"/>
<rect x="723" y="220" width="9" height="1" fill="#0000FF"/>
<rect x="735" y="220" width="3" height="1" fill="#0000FF"/>
<rect x="741" y="220" width="3" height="1" fill="#0000FF"/>
<rect x="747" y="220" width="9" height="1" fill="#0000FF"/>
<rect x="759" y="220" width="3" height="1" fill="#0000FF"/>
<rect x="765" y="220" width="3" height="1" fill="#0000FF"/>
<rect x="771" y="220" width="9" height="1" fill="#0000FF"/>
<rect x="783" y="220" width="3" height="1" fill="#0000FF"/>
<rect x="789" y="220" width="3" height="1" fill="#0000FF"/>
<rect x="795" y="220" width="9" height="1" fill="#0000FF"/>
<rect x="807" y="220" width="3" height="1" fill="#0000FF"/>
<rect x="813" y="220" width="3" height="1" fill="#0000FF"/>
<rect x="819" y="220" width="9" height="1" fill="#0000FF"/>
<rect x="831" y="220" width="3" height="1" fill="#0000FF"/>
<rect x="837" y="220" width="3" height="1" fill="#0000FF"/>
<rect x="843" y="220" width="9" height="1" fill="#0000FF"/>
<rect x="855" y="220" width="3" height="1" fill="#0000FF"/>
<rect x="861" y="220" width="3" height="1" fill="#0000FF"/>
<rect x="867" y="220" width="9" height="1" fill="#0000FF"/>
<rect x="879" y="220" width="3" height="1" fill="#0000FF"/>
<rect x="885" y="220" width="3" height="1" fill="#0000FF"/>
<rect x="891" y="220" width="9" height="1" fill="#0000FF"/>
<rect x="903" y="220" width="3" height="1" fill="#0000FF"/>
<rect x="909" y="220" width="3" height="1" fill="#0000FF"/>
<rect x="915" y="220" width="9" height="1" fill="#0000FF"/>
<rect x="927" y="220" width="3" height="1" fill="#0000FF"/>
<rect x="933" y="220" width="3" height="1" fill="#0000FF"/>
<rect x="939" y="220" width="9" height="1" fill="#0000FF"/>
<rect x="951" y="220" width="3" height="1" fill="#0000FF"/>
<rect x="957" y="220" width="3" height="1" fill="#0000FF"/>
<rect x="3" y="235" width="9" height="1" fill="#0000FF"/>
<rect x="15" y="235" width="3" height="1" fill="#0000FF"/>
<rect x="21" y="235" width="3" height="1" fill="#0000FF"/>
<rect x="27" y="235" width="9" height="1" fill="#0000FF"/>
<rect x="39" y="235" width="3" height="1" fill="#0000FF"/>
<rect x="45" y="235" width="3" height="1" fill="#0000FF"/>
<rect x="51" y="235" width="9" height="1" fill="#0000FF"/>
<rect x="63" y="235" width="3" height="1" fill="#0000FF"/>
<rect x="69" y="235" width="3" height="1" fill="#0000FF"/>
<rect x="75" y="235" width="9" height="1" fill="#0000FF"/>
<rect x="87" y="235" width="3" height="1" fill="#0000FF"/>
<rect x="93" y="235" width="3" height="1" fill="#0000FF"/>
<rect x="99" y="235" width="9" height="1" fill="#0000FF"/>
<rect x="111" y="235" width="3" height="1" fill="#0000FF"/>
<rect x="117" y="235" width="3" height="1" fill="#0000FF"/>
<rect x="123" y="235" width="9" height="1" fill="#0000FF"/>
<rect x="135" y="235" width="3" height="1" fill="#0000FF"/>
<rect x="141" y="235" width="3" height="1" fill="#0000FF"/>
<rect x="147" y="235" width="9" height="1" fill="#0000FF"/>
<rect x="159" y="235" width="3" height="1" fill="#0000FF"/>
<rect x="165" y="235" width="3" height="1" fill="#0000FF"/>
<rect x="171" y="235" width="9" height="1" fill="#0000FF"/>
<rect x="183" y="235" width="3" height="1" fill="#0000FF"/>
<rect x="189" y="235" width="3" height="1" fill="#0000FF"/>
<rect x="195" y="235" width="9" height="1" fill="#0000FF"/>
<rect x="207" y="235" width="3" height="1" fill="#0000FF"/>
<rect x="213" y="235" width="3" height="1" fill="#0000FF"/>
<rect x="219" y="235" width="9" height="1" fill="#0000FF"/>
<rect x="231" y="235" width="3" height="1" fill="#0000FF"/>
<rect x="237" y="235" width="3" height="1" fill="#0000FF"/>
<rect x="243" y="235" width="9" height="1" fill="#0000FF"/>
<rect x="255" y="235" width="3" height="1" fill="#0000FF"/>
<rect x="261" y="235" width="3" height="1" fill="#0000FF"/>
<rect x="267" y="235" width="9" height="1" fill="#0000FF"/>
<rect x="279" y="235" width="3" height="1" fill="#0000FF"/>
<rect x="285" y="235" width="3" height="1" fill="#0000FF"/>
<rect x="291" y="235" width="9" height="1" fill="#0000FF"/>
<rect x="303" y="235" width="3" height="1" fill="#0000FF"/>
<rect x="309" y="235" width="3" height="1" fill="#0000FF"/>
<rect x="315" y="235" width="9" height="1" fill="#0000FF"/>
<rect x="327" y="235" width="3" height="1" fill="#0000FF"/>
<rect x="333" y="235" width="3" height="1" fill="#0000FF"/>
<rect x="339" y="235" width="9" height="1" fill="#0000FF"/>
<rect x="351" y="235" width="3" height="1" fill="#0000FF"/>
<rect x="357" y="235" width="3" height="1" fill="#0000FF"/>
<rect x="363" y="235" width="9" height="1" fill="#0000FF"/>
<rect x="375" y="235" width="3" height="1" fill="#0000FF"/>
<rect x="381" y="235" width="3" height="1" fill="#0000FF"/>
<rect x="387" y="235" width="9" height="1" fill="#0000FF"/>
<rect x="399" y="235" width="3" height="1" fill="#0000FF"/>
<rect x="405" y="235" width="3" height="1" fill="#0000FF"/>
<rect x="411" y="235" width="9" height="1" fill="#0000FF"/>
<rect x="423" y="235" width="3" height="1" fill="#0000FF"/>
<rect x="429" y="235" width="3" height="1" fill="#0000FF"/>
<rect x="435" y="235" width="9" height="1" fill="#0000FF"/>
<rect x="447" y="235" width="3" height="1" fill="#0000FF"/>
<rect x="453" y="235" width="3" height="1" fill="#0000FF"/>
<rect x="459" y="235" width="9" height="1" fill="#0000FF"/>
<rect x="471" y="235" width="3" height="1" fill="#0000FF"/>
<rect x="477" y="235" width="3" height="1" fill="#0000FF"/>
<rect x="483" y="235" width="9" height="1" fill="#0000FF"/>
<rect x="495" y="235" width="3" height="1" fill="#0000FF"/>
<rect x="501" y="235" width="3" height="1" fill="#0000FF"/>
<rect x="507" y="235" width="9" height="1" fill="#0000FF"/>
<rect x="519" y="235" width="3" height="1" fill="#0000FF"/>
<rect x="525" y="235" width="3" height="1" fill="#0000FF"/>
<rect x="531" y="235" width="9" height="1" fill="#0000FF"/>
<rect x="543" y="235" width="3" height="1" fill="#0000FF"/>
<rect x="549" y="235" width="3" height="1" fill="#0000FF"/>
<rect x="555" y="235" width="9" height="1" fill="#0000FF"/>
<rect x="567" y="235" width="3" height="1" fill="#0000FF"/>
<rect x="573" y="235" width="3" height="1" fill="#0000FF"/>
<rect x="579" y="235" width="9" height="1" fill="#0000FF"/>
<rect x="591" y="235" width="3" height="1" fill="#0000FF"/>
<rect x="597" y="235" width="3" height="1" fill="#0000FF"/>
<rect x="603" y="235" width="9" height="1" fill="#0000FF"/>
<rect x="615" y="235" width="3" height="1" fill="#0000FF"/>
<rect x="621" y="235" width="3" height="1" fill="#0000FF"/>
<rect x="627" y="235" width="9" height="1" fill="#0000FF"/>
<rect x="639" y="235" width="3" height="1" fill="#0000FF"/>
<rect x="645" y="235" width="3" height="1" fill="#0000FF"/>
<rect x="651" y="235" width="9" height="1" fill="#0000FF"/>
<rect x="663" y="235" width="3" height="1" fill="#0000FF"/>
<rect x="669" y="235" width="3" height="1" fill="#0000FF"/>
<rect x="675" y="235" width="9" height="1" fill="#0000FF"/>
<rect x="687" y="235" width="3" height="1" fill="#0000FF"/>
<rect x="693" y="235" width="3" height="1" fill="#0000FF"/>
<rect x="699" y="235" width="9" height="1" fill="#0000FF"/>
<rect x="711" y="235" width="3" height="1" fill="#0000FF"/>
<rect x="717" y="235" width="3" height="1" fill="#0000FF"/>
<rect x="723" y="235" width="9" height="1" fill="#0000FF"/>
<rect x="735" y="235" width="3" height="1" fill="#0000FF"/>
<rect x="741" y="235" width="3" height="1" fill="#0000FF"/>
<rect x="747" y="235" width="9" height="1" fill="#0000FF"/>
<rect x="759" y="235" width="3" height="1" fill="#0000FF"/>
<rect x="765" y="235" width="3" height="1" fill="#0000FF"/>
<rect x="771" y="235" width="9" height="1" fill="#0000FF"/>
<rect x="783" y="235" width="3" height="1" fill="#0000FF"/>
<rect x="789" y="235" width="3" height="1" fill="#0000FF"/>
<rect x="795" y="235" width="9" height="1" fill="#0000FF"/>
<rect x="807" y="235" width="3" height="1" fill="#0000FF"/>
<rect x="813" y="235" width="3" height="1" fill="#0000FF"/>
<rect x="819" y="235" width="9" height="1" fill="#0000FF"/>
<rect x="831" y="235" width="3" height="1" fill="#0000FF"/>
<rect x="837" y="235" width="3" height="1" fill="#0000FF"/>
<rect x="843" y="235" width="9" height="1" fill="#0000FF"/>
<rect x="855" y="235" width="3" height="1" fill="#0000FF"/>
<rect x="861" y="235" width="3" height="1" fill="#0000FF"/>
<rect x="867" y="235" width="9" height="1" fill="#0000FF"/>
<rect x="879" y="235" width="3" height="1" fill="#0000FF"/>
<rect x="885" y="235" width="3" height="1" fill="#0000FF"/>
<rect x="891" y="235" width="9" height="1" fill="#0000FF"/>
<rect x="903" y="235" width="3" height="1" fill="#0000FF"/>
<rect x="909" y="235" width="3" height="1" fill="#0000FF"/>
<rect x="915" y="235" width="9" height="1" fill="#0000FF"/>
<rect x="927" y="235" width="3" height="1" fill="#0000FF"/>
<rect x="933" y="235" width="3" height="1" fill="#0000FF"/>
<rect x="939" y="235" width="9" height="1" fill="#0000FF"/>
<rect x="951" y="235" width="3" height="1" fill="#0000FF"/>
<rect x="957" y="235" width="3" height="1" fill="#0000FF"/>
<rect x="3" y="70" width="1" height="43" fill="#000"/>
<rect x="4" y="88" width="2" height="1" fill="#000"/>
<rect x="11" y="61" width="1" height="31" fill="#000"/>
<rect x="9" y="90" width="2" height="1" fill="#000"/>
<rect x="12" y="65" width="2" height="1" fill="#000"/>
<rect x="19" y="20" width="1" height="53" fill="#000"/>
<rect x="17" y="64" width="2" height="1" fill="#000"/>
<rect x="20" y="44" width="2" height="1" fill="#000"/>
<rect x="27" y="29" width="1" height="23" fill="#000"/>
<rect x="25" y="43" width="2" height="1" fill="#000"/>
<rect x="28" y="38" width="2" height="1" fill="#000"/>
<rect x="35" y="37" width="1" height="18" fill="#000"/>
<rect x="33" y="38" width="2" height="1" fill="#000"/>
<rect x="36" y="43" width="2" height="1" fill="#000"/>
<rect x="43" y="37" width="1" height="13" fill="#000"/>
<rect x="41" y="44" width="2" height="1" fill="#000"/>
<rect x="44" y="49" width="2" height="1" fill="#000"/>
<rect x="51" y="45" width="1" height="9" fill="#000"/>
<rect x="49" y="46" width="2" height="1" fill="#000"/>
<rect x="52" y="53" width="2" height="1" fill="#000"/>
<rect x="59" y="50" width="1" height="17" fill="#000"/>
<rect x="57" y="52" width="2" height="1" fill="#000"/>
<rect x="60" y="63" width="2" height="1" fill="#000"/>
<rect x="67" y="56" width="1" height="11" fill="#000"/>
<rect x="65" y="63" width="2" height="1" fill="#000"/>
<rect x="68" y="62" width="2" height="1" fill="#000"/>
<rect x="75" y="61" width="1" height="15" fill="#000"/>
<rect x="73" y="61" width="2" height="1" fill="#000"/>
<rect x="76" y="74" width="2" height="1" fill="#000"/>
<rect x="83" y="72" width="1" height="11" fill="#000"/>
<rect x="81" y="74" width="2" height="1" fill="#000"/>
<rect x="84" y="78" width="2" height="1" fill="#000"/>
<rect x="91" y="72" width="1" height="15" fill="#000"/>
<rect x="89" y="79" width="2" height="1" fill="#000"/>
<rect x="92" y="84" width="2" height="1" fill="#000"/>
<rect x="99" y="77" width="1" height="9" fill="#000"/>
<rect x="97" y="84" width="2" height="1" fill="#000"/>
<rect x="100" y="81" width="2" height="1" fill="#000"/>
<rect x="107" y="77" width="1" height="8" fill="#000"/>
<rect x="105" y="82" width="2" height="1" fill="#000"/>
<rect x="108" y="78" width="2" height="1" fill="#000"/>
<rect x="115" y="73" width="1" height="15" fill="#000"/>
<rect x="113" y="77" width="2" height="1" fill="#000"/>
<rect x="116" y="85" width="2" height="1" fill="#000"/>
<rect x="123" y="75" width="1" height="28" fill="#000"/>
<rect x="121" y="84" width="2" height="1" fill="#000"/>
<rect x="124" y="99" width="2" height="1" fill="#000"/>
<rect x="131" y="73" width="1" height="33" fill="#000"/>
<rect x="129" y="97" width="2" height="1" fill="#000"/>
<rect x="132" y="96" width="2" height="1" fill="#000"/>
<rect x="139" y="91" width="1" height="29" fill="#000"/>
<rect x="137" y="96" width="2" height="1" fill="#000"/>
<rect x="140" y="114" width="2" height="1" fill="#000"/>
<rect x="147" y="78" width="1" height="43" fill="#000"/>
<rect x="145" y="115" width="2" height="1" fill="#000"/>
<rect x="148" y="84" width="2" height="1" fill="#000"/>
<rect x="155" y="69" width="1" height="26" fill="#000"/>
<rect x="153" y="84" width="2" height="1" fill="#000"/>
<rect x="156" y="86" width="2" height="1" fill="#000"/>
<rect x="163" y="79" width="1" height="20" fill="#000"/>
<rect x="161" y="85" width="2" height="1" fill="#000"/>
<rect x="164" y="98" width="2" height="1" fill="#000"/>
<rect x="171" y="61" width="1" height="40" fill="#000"/>
<rect x="169" y="99" width="2" height="1" fill="#000"/>
<rect x="172" y="64" width="2" height="1" fill="#000"/>
<rect x="179" y="43" width="1" height="38" fill="#000"/>
<rect x="177" y="64" width="2" height="1" fill="#000"/>
<rect x="180" y="75" width="2" height="1" fill="#000"/>
<rect x="187" y="69" width="1" height="49" fill="#000"/>
<rect x="185" y="77" width="2" height="1" fill="#000"/>
<rect x="188" y="115" width="2" height="1" fill="#000"/>
<rect x="195" y="104" width="1" height="32" fill="#000"/>
<rect x="193" y="114" width="2" height="1" fill="#000"/>
<rect x="196" y="107" width="2" height="1" fill="#000"/>
<rect x="203" y="100" width="1" height="18" fill="#000"/>
<rect x="201" y="105" width="2" height="1" fill="#000"/>
<rect x="204" y="107" width="2" height="1" fill="#000"/>
<rect x="211" y="107" width="1" height="11" fill="#000"/>
<rect x="209" y="108" width="2" height="1" fill="#000"/>
<rect x="212" y="109" width="2" height="1" fill="#000"/>
<rect x="219" y="106" width="1" height="12" fill="#000"/>
<rect x="217" y="109" width="2" height="1" fill="#000"/>
<rect x="220" y="112" width="2" height="1" fill="#000"/>
<rect x="227" y="108" width="1" height="7" fill="#000"/>
<rect x="225" y="113" width="2" height="1" fill="#000"/>
<rect x="228" y="109" width="2" height="1" fill="#000"/>
<rect x="235" y="109" width="1" height="13" fill="#000"/>
<rect x="233" y="109" width="2" height="1" fill="#000"/>
<rect x="236" y="112" width="2" height="1" fill="#000"/>
<rect x="243" y="112" width="1" height="10" fill="#000"/>
<rect x="241" y="113" width="2" height="1" fill="#000"/>
<rect x="244" y="116" width="2" height="1" fill="#000"/>
<rect x="251" y="112" width="1" height="12" fill="#000"/>
<rect x="249" y="113" width="2" height="1" fill="#000"/>
<rect x="252" y="123" width="2" height="1" fill="#000"/>
<rect x="259" y="120" width="1" height="6" fill="#000"/>
<rect x="257" y="122" width="2" height="1" fill="#000"/>
<rect x="260" y="120" width="2" height="1" fill="#000"/>
<rect x="267" y="117" width="1" height="8" fill="#000"/>
<rect x="265" y="121" width="2" height="1" fill="#000"/>
<rect x="268" y="119" width="2" height="1" fill="#000"/>
<rect x="275" y="115" width="1" height="7" fill="#000"/>
<rect x="273" y="119" width="2" height="1" fill="#000"/>
<rect x="276" y="116" width="2" height="1" fill="#000"/>
<rect x="283" y="114" width="1" height="9" fill="#000"/>
<rect x="281" y="115" width="2" height="1" fill="#000"/>
<rect x="284" y="119" width="2" height="1" fill="#000"/>
<rect x="291" y="114" width="1" height="6" fill="#000"/>
<rect x="289" y="119" width="2" height="1" fill="#000"/>
<rect x="292" y="116" width="2" height="1" fill="#000"/>
<rect x="299" y="116" width="1" height="7" fill="#000"/>
<rect x="297" y="116" width="2" height="1" fill="#000"/>
<rect x="300" y="116" width="2" height="1" fill="#000"/>
<rect x="307" y="114" width="1" height="10" fill="#000"/>
<rect x="305" y="116" width="2" height="1" fill="#000"/>
<rect x="308" y="123" width="2" height="1" fill="#000"/>
<rect x="315" y="119" width="1" height="15" fill="#000"/>
<rect x="313" y="124" width="2" height="1" fill="#000"/>
<rect x="316" y="126" width="2" height="1" fill="#000"/>
<rect x="323" y="120" width="1" height="25" fill="#000"/>
<rect x="321" y="127" width="2" height="1" fill="#000"/>
<rect x="324" y="135" width="2" height="1" fill="#000"/>
<rect x="331" y="107" width="1" height="40" fill="#000"/>
<rect x="329" y="134" width="2" height="1" fill="#000"/>
<rect x="332" y="109" width="2" height="1" fill="#000"/>
<rect x="339" y="93" width="1" height="38" fill="#000"/>
<rect x="337" y="109" width="2" height="1" fill="#000"/>
<rect x="340" y="127" width="2" height="1" fill="#000"/>
<rect x="347" y="123" width="1" height="22" fill="#000"/>
<rect x="345" y="126" width="2" height="1" fill="#000"/>
<rect x="348" y="137" width="2" height="1" fill="#000"/>
<rect x="355" y="131" width="1" height="14" fill="#000"/>
<rect x="353" y="137" width="2" height="1" fill="#000"/>
<rect x="356" y="141" width="2" height="1" fill="#000"/>
<rect x="363" y="139" width="1" height="23" fill="#000"/>
<rect x="361" y="142" width="2" height="1" fill="#000"/>
<rect x="364" y="146" width="2" height="1" fill="#000"/>
<rect x="371" y="142" width="1" height="27" fill="#000"/>
<rect x="369" y="148" width="2" height="1" fill="#000"/>
<rect x="372" y="165" width="2" height="1" fill="#000"/>
<rect x="379" y="137" width="1" height="36" fill="#000"/>
<rect x="377" y="167" width="2" height="1" fill="#000"/>
<rect x="380" y="137" width="2" height="1" fill="#000"/>
<rect x="387" y="137" width="1" height="20" fill="#000"/>
<rect x="385" y="137" width="2" height="1" fill="#000"/>
<rect x="388" y="155" width="2" height="1" fill="#000"/>
<rect x="395" y="155" width="1" height="8" fill="#000"/>
<rect x="393" y="156" width="2" height="1" fill="#000"/>
<rect x="396" y="160" width="2" height="1" fill="#000"/>
<rect x="403" y="160" width="1" height="16" fill="#000"/>
<rect x="401" y="161" width="2" height="1" fill="#000"/>
<rect x="404" y="172" width="2" height="1" fill="#000"/>
<rect x="411" y="169" width="1" height="15" fill="#000"/>
<rect x="409" y="173" width="2" height="1" fill="#000"/>
<rect x="412" y="181" width="2" height="1" fill="#000"/>
<rect x="419" y="174" width="1" height="10" fill="#000"/>
<rect x="417" y="180" width="2" height="1" fill="#000"/>
<rect x="420" y="176" width="2" height="1" fill="#000"/>
<rect x="427" y="171" width="1" height="10" fill="#000"/>
<rect x="425" y="176" width="2" height="1" fill="#000"/>
<rect x="428" y="177" width="2" height="1" fill="#000"/>
<rect x="435" y="173" width="1" height="6" fill="#000"/>
<rect x="433" y="176" width="2" height="1" fill="#000"/>
<rect x="436" y="176" width="2" height="1" fill="#000"/>
<rect x="443" y="174" width="1" height="11" fill="#000"/>
<rect x="441" y="175" width="2" height="1" fill="#000"/>
<rect x="444" y="182" width="2" height="1" fill="#000"/>
<rect x="451" y="181" width="1" height="11" fill="#000"/>
<rect x="449" y="182" width="2" height="1" fill="#000"/>
<rect x="452" y="188" width="2" height="1" fill="#000"/>
<rect x="459" y="180" width="1" height="9" fill="#000"/>
<rect x="457" y="187" width="2" height="1" fill="#000"/>
<rect x="460" y="181" width="2" height="1" fill="#000"/>
<rect x="467" y="174" width="1" height="10" fill="#000"/>
<rect x="465" y="182" width="2" height="1" fill="#000"/>
<rect x="468" y="178" width="2" height="1" fill="#000"/>
<rect x="475" y="160" width="1" height="21" fill="#000"/>
<rect x="473" y="179" width="2" height="1" fill="#000"/>
<rect x="476" y="164" width="2" height="1" fill="#000"/>
<rect x="483" y="159" width="1" height="9" fill="#000"/>
<rect x="481" y="163" width="2" height="1" fill="#000"/>
<rect x="484" y="164" width="2" height="1" fill="#000"/>
<rect x="491" y="161" width="1" height="7" fill="#000"/>
<rect x="489" y="164" width="2" height="1" fill="#000"/>
<rect x="492" y="162" width="2" height="1" fill="#000"/>
<rect x="499" y="162" width="1" height="8" fill="#000"/>
<rect x="497" y="162" width="2" height="1" fill="#000"/>
<rect x="500" y="162" width="2" height="1" fill="#000"/>
<rect x="507" y="153" width="1" height="22" fill="#000"/>
<rect x="505" y="162" width="2" height="1" fill="#000"/>
<rect x="508" y="160" width="2" height="1" fill="#000"/>
<rect x="515" y="156" width="1" height="24" fill="#000"/>
<rect x="513" y="160" width="2" height="1" fill="#000"/>
<rect x="516" y="172" width="2" height="1" fill="#000"/>
<rect x="523" y="156" width="1" height="25" fill="#000"/>
<rect x="521" y="171" width="2" height="1" fill="#000"/>
<rect x="524" y="160" width="2" height="1" fill="#000"/>
<rect x="531" y="154" width="1" height="12" fill="#000"/>
<rect x="529" y="159" width="2" height="1" fill="#000"/>
<rect x="532" y="158" width="2" height="1" fill="#000"/>
<rect x="539" y="155" width="1" height="10" fill="#000"/>
<rect x="537" y="157" width="2" height="1" fill="#000"/>
<rect x="540" y="164" width="2" height="1" fill="#000"/>
<rect x="547" y="155" width="1" height="11" fill="#000"/>
<rect x="545" y="165" width="2" height="1" fill="#000"/>
<rect x="548" y="161" width="2" height="1" fill="#000"/>
<rect x="555" y="128" width="1" height="51" fill="#000"/>
<rect x="553" y="160" width="2" height="1" fill="#000"/>
<rect x="556" y="148" width="2" height="1" fill="#000"/>
<rect x="563" y="142" width="1" height="17" fill="#000"/>
<rect x="561" y="147" width="2" height="1" fill="#000"/>
<rect x="564" y="155" width="2" height="1" fill="#000"/>
<rect x="571" y="137" width="1" height="19" fill="#000"/>
<rect x="569" y="154" width="2" height="1" fill="#000"/>
<rect x="572" y="139" width="2" height="1" fill="#000"/>
<rect x="579" y="135" width="1" height="17" fill="#000"/>
<rect x="577" y="140" width="2" height="1" fill="#000"/>
<rect x="580" y="151" width="2" height="1" fill="#000"/>
<rect x="587" y="146" width="1" height="8" fill="#000"/>
<rect x="585" y="151" width="2" height="1" fill="#000"/>
<rect x="588" y="146" width="2" height="1" fill="#000"/>
<rect x="595" y="144" width="1" height="15" fill="#000"/>
<rect x="593" y="147" width="2" height="1" fill="#000"/>
<rect x="596" y="153" width="2" height="1" fill="#000"/>
<rect x="603" y="151" width="1" height="10" fill="#000"/>
<rect x="601" y="153" width="2" height="1" fill="#000"/>
<rect x="604" y="154" width="2" height="1" fill="#000"/>
<rect x="611" y="149" width="1" height="11" fill="#000"/>
<rect x="609" y="155" width="2" height="1" fill="#000"/>
<rect x="612" y="154" width="2" height="1" fill="#000"/>
<rect x="619" y="153" width="1" height="6" fill="#000"/>
<rect x="617" y="155" width="2" height="1" fill="#000"/>
<rect x="620" y="154" width="2" height="1" fill="#000"/>
<rect x="627" y="153" width="1" height="4" fill="#000"/>
<rect x="625" y="155" width="2" height="1" fill="#000"/>
<rect x="628" y="153" width="2" height="1" fill="#000"/>
<rect x="635" y="148" width="1" height="8" fill="#000"/>
<rect x="633" y="152" width="2" height="1" fill="#000"/>
<rect x="636" y="151" width="2" height="1" fill="#000"/>
<rect x="643" y="151" width="1" height="5" fill="#000"/>
<rect x="641" y="151" width="2" height="1" fill="#000"/>
<rect x="644" y="153" width="2" height="1" fill="#000"/>
<rect x="651" y="144" width="1" height="13" fill="#000"/>
<rect x="649" y="153" width="2" height="1" fill="#000"/>
<rect x="652" y="154" width="2" height="1" fill="#000"/>
<rect x="659" y="149" width="1" height="6" fill="#000"/>
<rect x="657" y="153" width="2" height="1" fill="#000"/>
<rect x="660" y="151" width="2" height="1" fill="#000"/>
<rect x="667" y="146" width="1" height="9" fill="#000"/>
<rect x="665" y="151" width="2" height="1" fill="#000"/>
<rect x="668" y="148" width="2" height="1" fill="#000"/>
<rect x="675" y="145" width="1" height="7" fill="#000"/>
<rect x="673" y="148" width="2" height="1" fill="#000"/>
<rect x="676" y="148" width="2" height="1" fill="#000"/>
<rect x="683" y="146" width="1" height="6" fill="#000"/>
<rect x="681" y="148" width="2" height="1" fill="#000"/>
<rect x="684" y="147" width="2" height="1" fill="#000"/>
<rect x="691" y="144" width="1" height="7" fill="#000"/>
<rect x="689" y="146" width="2" height="1" fill="#000"/>
<rect x="692" y="148" width="2" height="1" fill="#000"/>
<rect x="699" y="139" width="1" height="13" fill="#000"/>
<rect x="697" y="148" width="2" height="1" fill="#000"/>
<rect x="700" y="148" width="2" height="1" fill="#000"/>
<rect x="707" y="134" width="1" height="15" fill="#000"/>
<rect x="705" y="147" width="2" height="1" fill="#000"/>
<rect x="708" y="142" width="2" height="1" fill="#000"/>
<rect x="715" y="132" width="1" height="12" fill="#000"/>
<rect x="713" y="142" width="2" height="1" fill="#000"/>
<rect x="716" y="139" width="2" height="1" fill="#000"/>
<rect x="723" y="131" width="1" height="12" fill="#000"/>
<rect x="721" y="138" width="2" height="1" fill="#000"/>
<rect x="724" y="133" width="2" height="1" fill="#000"/>
<rect x="731" y="132" width="1" height="10" fill="#000"/>
<rect x="729" y="135" width="2" height="1" fill="#000"/>
<rect x="732" y="138" width="2" height="1" fill="#000"/>
<rect x="739" y="138" width="1" height="11" fill="#000"/>
<rect x="737" y="139" width="2" height="1" fill="#000"/>
<rect x="740" y="146" width="2" height="1" fill="#000"/>
<rect x="747" y="143" width="1" height="16" fill="#000"/>
<rect x="745" y="146" width="2" height="1" fill="#000"/>
<rect x="748" y="149" width="2" height="1" fill="#000"/>
<rect x="755" y="139" width="1" height="14" fill="#000"/>
<rect x="753" y="151" width="2" height="1" fill="#000"/>
<rect x="756" y="145" width="2" height="1" fill="#000"/>
<rect x="763" y="141" width="1" height="7" fill="#000"/>
<rect x="761" y="144" width="2" height="1" fill="#000"/>
<rect x="764" y="143" width="2" height="1" fill="#000"/>
<rect x="771" y="138" width="1" height="9" fill="#000"/>
<rect x="769" y="142" width="2" height="1" fill="#000"/>
<rect x="772" y="146" width="2" height="1" fill="#000"/>
<rect x="779" y="138" width="1" height="31" fill="#000"/>
<rect x="777" y="146" width="2" height="1" fill="#000"/>
<rect x="780" y="164" width="2" height="1" fill="#000"/>
<rect x="787" y="143" width="1" height="21" fill="#000"/>
<rect x="785" y="163" width="2" height="1" fill="#000"/>
<rect x="788" y="146" width="2" height="1" fill="#000"/>
<rect x="795" y="143" width="1" height="6" fill="#000"/>
<rect x="793" y="146" width="2" height="1" fill="#000"/>
<rect x="796" y="147" width="2" height="1" fill="#000"/>
<rect x="803" y="136" width="1" height="12" fill="#000"/>
<rect x="801" y="146" width="2" height="1" fill="#000"/>
<rect x="804" y="139" width="2" height="1" fill="#000"/>
<rect x="811" y="133" width="1" height="20" fill="#000"/>
<rect x="809" y="139" width="2" height="1" fill="#000"/>
<rect x="812" y="134" width="2" height="1" fill="#000"/>
<rect x="819" y="215" width="1" height="20" fill="#000"/>
<rect x="817" y="228" width="2" height="1" fill="#000"/>
<rect x="820" y="227" width="2" height="1" fill="#000"/>
<rect x="827" y="188" width="1" height="39" fill="#000"/>
<rect x="825" y="226" width="2" height="1" fill="#000"/>
<rect x="828" y="198" width="2" height="1" fill="#000"/>
<rect x="835" y="186" width="1" height="34" fill="#000"/>
<rect x="833" y="197" width="2" height="1" fill="#000"/>
<rect x="836" y="217" width="2" height="1" fill="#000"/>
<rect x="843" y="194" width="1" height="24" fill="#000"/>
<rect x="841" y="216" width="2" height="1" fill="#000"/>
<rect x="844" y="199" width="2" height="1" fill="#000"/>
<rect x="851" y="174" width="1" height="26" fill="#000"/>
<rect x="849" y="199" width="2" height="1" fill="#000"/>
<rect x="852" y="184" width="2" height="1" fill="#000"/>
<rect x="859" y="178" width="1" height="11" fill="#000"/>
<rect x="857" y="183" width="2" height="1" fill="#000"/>
<rect x="860" y="183" width="2" height="1" fill="#000"/>
<rect x="867" y="183" width="1" height="10" fill="#000"/>
<rect x="865" y="184" width="2" height="1" fill="#000"/>
<rect x="868" y="188" width="2" height="1" fill="#000"/>
<rect x="875" y="183" width="1" height="14" fill="#000"/>
<rect x="873" y="188" width="2" height="1" fill="#000"/>
<rect x="876" y="192" width="2" height="1" fill="#000"/>
<rect x="883" y="151" width="1" height="56" fill="#000"/>
<rect x="881" y="193" width="2" height="1" fill="#000"/>
<rect x="884" y="165" width="2" height="1" fill="#000"/>
<rect x="891" y="161" width="1" height="23" fill="#000"/>
<rect x="889" y="165" width="2" height="1" fill="#000"/>
<rect x="892" y="174" width="2" height="1" fill="#000"/>
<rect x="899" y="155" width="1" height="28" fill="#000"/>
<rect x="897" y="175" width="2" height="1" fill="#000"/>
<rect x="900" y="156" width="2" height="1" fill="#000"/>
<rect x="907" y="146" width="1" height="19" fill="#000"/>
<rect x="905" y="157" width="2" height="1" fill="#000"/>
<rect x="908" y="158" width="2" height="1" fill="#000"/>
</g>
<g style="mix-blend-mode:multiply">
<rect x="138" y="113" width="824" height="4.5" fill="#000" opacity="0.5" filter="url(#sh)"/>
<rect x="810" y="222" width="152" height="4.5" fill="#000" opacity="0.5" filter="url(#sh)"/>
<rect x="136" y="111" width="824" height="3" fill="#00FF40"/>
<rect x="808" y="220" width="152" height="3" fill="#00FF40"/>
</g>
<g clip-path="url(#c2)">
<rect x="4" y="280" width="3" height="1" fill="#C0C0C0"/>
<rect x="10" y="280" width="3" height="1" fill="#C0C0C0"/>
<rect x="16" y="280" width="3" height="1" fill="#C0C0C0"/>
<rect x="22" y="280" width="3" height="1" fill="#C0C0C0"/>
<rect x="28" y="280" width="3" height="1" fill="#C0C0C0"/>
<rect x="34" y="280" width="3" height="1" fill="#C0C0C0"/>
<rect x="40" y="280" width="3" height="1" fill="#C0C0C0"/>
<rect x="46" y="280" width="3" height="1" fill="#C0C0C0"/>
<rect x="52" y="280" width="3" height="1" fill="#C0C0C0"/>
<rect x="58" y="280" width="3" height="1" fill="#C0C0C0"/>
<rect x="64" y="280" width="3" height="1" fill="#C0C0C0"/>
<rect x="70" y="280" width="3" height="1" fill="#C0C0C0"/>
<rect x="76" y="280" width="3" height="1" fill="#C0C0C0"/>
<rect x="82" y="280" width="3" height="1" fill="#C0C0C0"/>
<rect x="88" y="280" width="3" height="1" fill="#C0C0C0"/>
<rect x="94" y="280" width="3" height="1" fill="#C0C0C0"/>
<rect x="100" y="280" width="3" height="1" fill="#C0C0C0"/>
<rect x="106" y="280" width="3" height="1" fill="#C0C0C0"/>
<rect x="112" y="280" width="3" height="1" fill="#C0C0C0"/>
<rect x="118" y="280" width="3" height="1" fill="#C0C0C0"/>
<rect x="124" y="280" width="3" height="1" fill="#C0C0C0"/>
<rect x="130" y="280" width="3" height="1" fill="#C0C0C0"/>
<rect x="136" y="280" width="3" height="1" fill="#C0C0C0"/>
<rect x="142" y="280" width="3" height="1" fill="#C0C0C0"/>
<rect x="148" y="280" width="3" height="1" fill="#C0C0C0"/>
<rect x="154" y="280" width="3" height="1" fill="#C0C0C0"/>
<rect x="160" y="280" width="3" height="1" fill="#C0C0C0"/>
<rect x="166" y="280" width="3" height="1" fill="#C0C0C0"/>
<rect x="172" y="280" width="3" height="1" fill="#C0C0C0"/>
<rect x="178" y="280" width="3" height="1" fill="#C0C0C0"/>
<rect x="184" y="280" width="3" height="1" fill="#C0C0C0"/>
<rect x="190" y="280" width="3" height="1" fill="#C0C0C0"/>
<rect x="196" y="280" width="3" height="1" fill="#C0C0C0"/>
<rect x="202" y="280" width="3" height="1" fill="#C0C0C0"/>
<rect x="208" y="280" width="3" height="1" fill="#C0C0C0"/>
<rect x="214" y="280" width="3" height="1" fill="#C0C0C0"/>
<rect x="220" y="280" width="3" height="1" fill="#C0C0C0"/>
<rect x="226" y="280" width="3" height="1" fill="#C0C0C0"/>
<rect x="232" y="280" width="3" height="1" fill="#C0C0C0"/>
<rect x="238" y="280" width="3" height="1" fill="#C0C0C0"/>
<rect x="244" y="280" width="3" height="1" fill="#C0C0C0"/>
<rect x="250" y="280" width="3" height="1" fill="#C0C0C0"/>
<rect x="256" y="280" width="3" height="1" fill="#C0C0C0"/>
<rect x="262" y="280" width="3" height="1" fill="#C0C0C0"/>
<rect x="268" y="280" width="3" height="1" fill="#C0C0C0"/>
<rect x="274" y="280" width="3" height="1" fill="#C0C0C0"/>
<rect x="280" y="280" width="3" height="1" fill="#C0C0C0"/>
<rect x="286" y="280" width="3" height="1" fill="#C0C0C0"/>
<rect x="292" y="280" width="3" height="1" fill="#C0C0C0"/>
<rect x="298" y="280" width="3" height="1" fill="#C0C0C0"/>
<rect x="304" y="280" width="3" height="1" fill="#C0C0C0"/>
<rect x="310" y="280" width="3" height="1" fill="#C0C0C0"/>
<rect x="316" y="280" width="3" height="1" fill="#C0C0C0"/>
<rect x="322" y="280" width="3" height="1" fill="#C0C0C0"/>
<rect x="328" y="280" width="3" height="1" fill="#C0C0C0"/>
<rect x="334" y="280" width="3" height="1" fill="#C0C0C0"/>
<rect x="340" y="280" width="3" height="1" fill="#C0C0C0"/>
<rect x="346" y="280" width="3" height="1" fill="#C0C0C0"/>
<rect x="352" y="280" width="3" height="1" fill="#C0C0C0"/>
<rect x="358" y="280" width="3" height="1" fill="#C0C0C0"/>
<rect x="364" y="280" width="3" height="1" fill="#C0C0C0"/>
<rect x="370" y="280" width="3" height="1" fill="#C0C0C0"/>
<rect x="376" y="280" width="3" height="1" fill="#C0C0C0"/>
<rect x="382" y="280" width="3" height="1" fill="#C0C0C0"/>
<rect x="388" y="280" width="3" height="1" fill="#C0C0C0"/>
<rect x="394" y="280" width="3" height="1" fill="#C0C0C0"/>
<rect x="400" y="280" width="3" height="1" fill="#C0C0C0"/>
<rect x="406" y="280" width="3" height="1" fill="#C0C0C0"/>
<rect x="412" y="280" width="3" height="1" fill="#C0C0C0"/>
<rect x="418" y="280" width="3" height="1" fill="#C0C0C0"/>
<rect x="424" y="280" width="3" height="1" fill="#C0C0C0"/>
<rect x="430" y="280" width="3" height="1" fill="#C0C0C0"/>
<rect x="436" y="280" width="3" height="1" fill="#C0C0C0"/>
<rect x="442" y="280" width="3" height="1" fill="#C0C0C0"/>
<rect x="448" y="280" width="3" height="1" fill="#C0C0C0"/>
<rect x="454" y="280" width="3" height="1" fill="#C0C0C0"/>
<rect x="460" y="280" width="3" height="1" fill="#C0C0C0"/>
<rect x="466" y="280" width="3" height="1" fill="#C0C0C0"/>
<rect x="472" y="280" width="3" height="1" fill="#C0C0C0"/>
<rect x="478" y="280" width="3" height="1" fill="#C0C0C0"/>
<rect x="484" y="280" width="3" height="1" fill="#C0C0C0"/>
<rect x="490" y="280" width="3" height="1" fill="#C0C0C0"/>
<rect x="496" y="280" width="3" height="1" fill="#C0C0C0"/>
<rect x="502" y="280" width="3" height="1" fill="#C0C0C0"/>
<rect x="508" y="280" width="3" height="1" fill="#C0C0C0"/>
<rect x="514" y="280" width="3" height="1" fill="#C0C0C0"/>
<rect x="520" y="280" width="3" height="1" fill="#C0C0C0"/>
<rect x="526" y="280" width="3" height="1" fill="#C0C0C0"/>
<rect x="532" y="280" width="3" height="1" fill="#C0C0C0"/>
<rect x="538" y="280" width="3" height="1" fill="#C0C0C0"/>
<rect x="544" y="280" width="3" height="1" fill="#C0C0C0"/>
<rect x="550" y="280" width="3" height="1" fill="#C0C0C0"/>
<rect x="556" y="280" width="3" height="1" fill="#C0C0C0"/>
<rect x="562" y="280" width="3" height="1" fill="#C0C0C0"/>
<rect x="568" y="280" width="3" height="1" fill="#C0C0C0"/>
<rect x="574" y="280" width="3" height="1" fill="#C0C0C0"/>
<rect x="580" y="280" width="3" height="1" fill="#C0C0C0"/>
<rect x="586" y="280" width="3" height="1" fill="#C0C0C0"/>
<rect x="592" y="280" width="3" height="1" fill="#C0C0C0"/>
<rect x="598" y="280" width="3" height="1" fill="#C0C0C0"/>
<rect x="604" y="280" width="3" height="1" fill="#C0C0C0"/>
<rect x="610" y="280" width="3" height="1" fill="#C0C0C0"/>
<rect x="616" y="280" width="3" height="1" fill="#C0C0C0"/>
<rect x="622" y="280" width="3" height="1" fill="#C0C0C0"/>
<rect x="628" y="280" width="3" height="1" fill="#C0C0C0"/>
<rect x="634" y="280" width="3" height="1" fill="#C0C0C0"/>
<rect x="640" y="280" width="3" height="1" fill="#C0C0C0"/>
<rect x="646" y="280" width="3" height="1" fill="#C0C0C0"/>
<rect x="652" y="280" width="3" height="1" fill="#C0C0C0"/>
<rect x="658" y="280" width="3" height="1" fill="#C0C0C0"/>
<rect x="664" y="280" width="3" height="1" fill="#C0C0C0"/>
<rect x="670" y="280" width="3" height="1" fill="#C0C0C0"/>
<rect x="676" y="280" width="3" height="1" fill="#C0C0C0"/>
<rect x="682" y="280" width="3" height="1" fill="#C0C0C0"/>
<rect x="688" y="280" width="3" height="1" fill="#C0C0C0"/>
<rect x="694" y="280" width="3" height="1" fill="#C0C0C0"/>
<rect x="700" y="280" width="3" height="1" fill="#C0C0C0"/>
<rect x="706" y="280" width="3" height="1" fill="#C0C0C0"/>
<rect x="712" y="280" width="3" height="1" fill="#C0C0C0"/>
<rect x="718" y="280" width="3" height="1" fill="#C0C0C0"/>
<rect x="724" y="280" width="3" height="1" fill="#C0C0C0"/>
<rect x="730" y="280" width="3" height="1" fill="#C0C0C0"/>
<rect x="736" y="280" width="3" height="1" fill="#C0C0C0"/>
<rect x="742" y="280" width="3" height="1" fill="#C0C0C0"/>
<rect x="748" y="280" width="3" height="1" fill="#C0C0C0"/>
<rect x="754" y="280" width="3" height="1" fill="#C0C0C0"/>
<rect x="760" y="280" width="3" height="1" fill="#C0C0C0"/>
<rect x="766" y="280" width="3" height="1" fill="#C0C0C0"/>
<rect x="772" y="280" width="3" height="1" fill="#C0C0C0"/>
<rect x="778" y="280" width="3" height="1" fill="#C0C0C0"/>
<rect x="784" y="280" width="3" height="1" fill="#C0C0C0"/>
<rect x="790" y="280" width="3" height="1" fill="#C0C0C0"/>
<rect x="796" y="280" width="3" height="1" fill="#C0C0C0"/>
<rect x="802" y="280" width="3" height="1" fill="#C0C0C0"/>
<rect x="808" y="280" width="3" height="1" fill="#C0C0C0"/>
<rect x="814" y="280" width="3" height="1" fill="#C0C0C0"/>
<rect x="820" y="280" width="3" height="1" fill="#C0C0C0"/>
<rect x="826" y="280" width="3" height="1" fill="#C0C0C0"/>
<rect x="832" y="280" width="3" height="1" fill="#C0C0C0"/>
<rect x="838" y="280" width="3" height="1" fill="#C0C0C0"/>
<rect x="844" y="280" width="3" height="1" fill="#C0C0C0"/>
<rect x="850" y="280" width="3" height="1" fill="#C0C0C0"/>
<rect x="856" y="280" width="3" height="1" fill="#C0C0C0"/>
<rect x="862" y="280" width="3" height="1" fill="#C0C0C0"/>
<rect x="868" y="280" width="3" height="1" fill="#C0C0C0"/>
<rect x="874" y="280" width="3" height="1" fill="#C0C0C0"/>
<rect x="880" y="280" width="3" height="1" fill="#C0C0C0"/>
<rect x="886" y="280" width="3" height="1" fill="#C0C0C0"/>
<rect x="892" y="280" width="3" height="1" fill="#C0C0C0"/>
<rect x="898" y="280" width="3" height="1" fill="#C0C0C0"/>
<rect x="904" y="280" width="3" height="1" fill="#C0C0C0"/>
<rect x="910" y="280" width="3" height="1" fill="#C0C0C0"/>
<rect x="916" y="280" width="3" height="1" fill="#C0C0C0"/>
<rect x="922" y="280" width="3" height="1" fill="#C0C0C0"/>
<rect x="928" y="280" width="3" height="1" fill="#C0C0C0"/>
<rect x="934" y="280" width="3" height="1" fill="#C0C0C0"/>
<rect x="940" y="280" width="3" height="1" fill="#C0C0C0"/>
<rect x="946" y="280" width="3" height="1" fill="#C0C0C0"/>
<rect x="952" y="280" width="3" height="1" fill="#C0C0C0"/>
<rect x="958" y="280" width="2" height="1" fill="#C0C0C0"/>
<rect x="4" y="326" width="3" height="1" fill="#C0C0C0"/>
<rect x="10" y="326" width="3" height="1" fill="#C0C0C0"/>
<rect x="16" y="326" width="3" height="1" fill="#C0C0C0"/>
<rect x="22" y="326" width="3" height="1" fill="#C0C0C0"/>
<rect x="28" y="326" width="3" height="1" fill="#C0C0C0"/>
<rect x="34" y="326" width="3" height="1" fill="#C0C0C0"/>
<rect x="40" y="326" width="3" height="1" fill="#C0C0C0"/>
<rect x="46" y="326" width="3" height="1" fill="#C0C0C0"/>
<rect x="52" y="326" width="3" height="1" fill="#C0C0C0"/>
<rect x="58" y="326" width="3" height="1" fill="#C0C0C0"/>
<rect x="64" y="326" width="3" height="1" fill="#C0C0C0"/>
<rect x="70" y="326" width="3" height="1" fill="#C0C0C0"/>
<rect x="76" y="326" width="3" height="1" fill="#C0C0C0"/>
<rect x="82" y="326" width="3" height="1" fill="#C0C0C0"/>
<rect x="88" y="326" width="3" height="1" fill="#C0C0C0"/>
<rect x="94" y="326" width="3" height="1" fill="#C0C0C0"/>
<rect x="100" y="326" width="3" height="1" fill="#C0C0C0"/>
<rect x="106" y="326" width="3" height="1" fill="#C0C0C0"/>
<rect x="112" y="326" width="3" height="1" fill="#C0C0C0"/>
<rect x="118" y="326" width="3" height="1" fill="#C0C0C0"/>
<rect x="124" y="326" width="3" height="1" fill="#C0C0C0"/>
<rect x="130" y="326" width="3" height="1" fill="#C0C0C0"/>
<rect x="136" y="326" width="3" height="1" fill="#C0C0C0"/>
<rect x="142" y="326" width="3" height="1" fill="#C0C0C0"/>
<rect x="148" y="326" width="3" height="1" fill="#C0C0C0"/>
<rect x="154" y="326" width="3" height="1" fill="#C0C0C0"/>
<rect x="160" y="326" width="3" height="1" fill="#C0C0C0"/>
<rect x="166" y="326" width="3" height="1" fill="#C0C0C0"/>
<rect x="172" y="326" width="3" height="1" fill="#C0C0C0"/>
<rect x="178" y="326" width="3" height="1" fill="#C0C0C0"/>
<rect x="184" y="326" width="3" height="1" fill="#C0C0C0"/>
<rect x="190" y="326" width="3" height="1" fill="#C0C0C0"/>
<rect x="196" y="326" width="3" height="1" fill="#C0C0C0"/>
<rect x="202" y="326" width="3" height="1" fill="#C0C0C0"/>
<rect x="208" y="326" width="3" height="1" fill="#C0C0C0"/>
<rect x="214" y="326" width="3" height="1" fill="#C0C0C0"/>
<rect x="220" y="326" width="3" height="1" fill="#C0C0C0"/>
<rect x="226" y="326" width="3" height="1" fill="#C0C0C0"/>
<rect x="232" y="326" width="3" height="1" fill="#C0C0C0"/>
<rect x="238" y="326" width="3" height="1" fill="#C0C0C0"/>
<rect x="244" y="326" width="3" height="1" fill="#C0C0C0"/>
<rect x="250" y="326" width="3" height="1" fill="#C0C0C0"/>
<rect x="256" y="326" width="3" height="1" fill="#C0C0C0"/>
<rect x="262" y="326" width="3" height="1" fill="#C0C0C0"/>
<rect x="268" y="326" width="3" height="1" fill="#C0C0C0"/>
<rect x="274" y="326" width="3" height="1" fill="#C0C0C0"/>
<rect x="280" y="326" width="3" height="1" fill="#C0C0C0"/>
<rect x="286" y="326" width="3" height="1" fill="#C0C0C0"/>
<rect x="292" y="326" width="3" height="1" fill="#C0C0C0"/>
<rect x="298" y="326" width="3" height="1" fill="#C0C0C0"/>
<rect x="304" y="326" width="3" height="1" fill="#C0C0C0"/>
<rect x="310" y="326" width="3" height="1" fill="#C0C0C0"/>
<rect x="316" y="326" width="3" height="1" fill="#C0C0C0"/>
<rect x="322" y="326" width="3" height="1" fill="#C0C0C0"/>
<rect x="328" y="326" width="3" height="1" fill="#C0C0C0"/>
<rect x="334" y="326" width="3" height="1" fill="#C0C0C0"/>
<rect x="340" y="326" width="3" height="1" fill="#C0C0C0"/>
<rect x="346" y="326" width="3" height="1" fill="#C0C0C0"/>
<rect x="352" y="326" width="3" height="1" fill="#C0C0C0"/>
<rect x="358" y="326" width="3" height="1" fill="#C0C0C0"/>
<rect x="364" y="326" width="3" height="1" fill="#C0C0C0"/>
<rect x="370" y="326" width="3" height="1" fill="#C0C0C0"/>
<rect x="376" y="326" width="3" height="1" fill="#C0C0C0"/>
<rect x="382" y="326" width="3" height="1" fill="#C0C0C0"/>
<rect x="388" y="326" width="3" height="1" fill="#C0C0C0"/>
<rect x="394" y="326" width="3" height="1" fill="#C0C0C0"/>
<rect x="400" y="326" width="3" height="1" fill="#C0C0C0"/>
<rect x="406" y="326" width="3" height="1" fill="#C0C0C0"/>
<rect x="412" y="326" width="3" height="1" fill="#C0C0C0"/>
<rect x="418" y="326" width="3" height="1" fill="#C0C0C0"/>
<rect x="424" y="326" width="3" height="1" fill="#C0C0C0"/>
<rect x="430" y="326" width="3" height="1" fill="#C0C0C0"/>
<rect x="436" y="326" width="3" height="1" fill="#C0C0C0"/>
<rect x="442" y="326" width="3" height="1" fill="#C0C0C0"/>
<rect x="448" y="326" width="3" height="1" fill="#C0C0C0"/>
<rect x="454" y="326" width="3" height="1" fill="#C0C0C0"/>
<rect x="460" y="326" width="3" height="1" fill="#C0C0C0"/>
<rect x="466" y="326" width="3" height="1" fill="#C0C0C0"/>
<rect x="472" y="326" width="3" height="1" fill="#C0C0C0"/>
<rect x="478" y="326" width="3" height="1" fill="#C0C0C0"/>
<rect x="484" y="326" width="3" height="1" fill="#C0C0C0"/>
<rect x="490" y="326" width="3" height="1" fill="#C0C0C0"/>
<rect x="496" y="326" width="3" height="1" fill="#C0C0C0"/>
<rect x="502" y="326" width="3" height="1" fill="#C0C0C0"/>
<rect x="508" y="326" width="3" height="1" fill="#C0C0C0"/>
<rect x="514" y="326" width="3" height="1" fill="#C0C0C0"/>
<rect x="520" y="326" width="3" height="1" fill="#C0C0C0"/>
<rect x="526" y="326" width="3" height="1" fill="#C0C0C0"/>
<rect x="532" y="326" width="3" height="1" fill="#C0C0C0"/>
<rect x="538" y="326" width="3" height="1" fill="#C0C0C0"/>
<rect x="544" y="326" width="3" height="1" fill="#C0C0C0"/>
<rect x="550" y="326" width="3" height="1" fill="#C0C0C0"/>
<rect x="556" y="326" width="3" height="1" fill="#C0C0C0"/>
<rect x="562" y="326" width="3" height="1" fill="#C0C0C0"/>
<rect x="568" y="326" width="3" height="1" fill="#C0C0C0"/>
<rect x="574" y="326" width="3" height="1" fill="#C0C0C0"/>
<rect x="580" y="326" width="3" height="1" fill="#C0C0C0"/>
<rect x="586" y="326" width="3" height="1" fill="#C0C0C0"/>
<rect x="592" y="326" width="3" height="1" fill="#C0C0C0"/>
<rect x="598" y="326" width="3" height="1" fill="#C0C0C0"/>
<rect x="604" y="326" width="3" height="1" fill="#C0C0C0"/>
<rect x="610" y="326" width="3" height="1" fill="#C0C0C0"/>
<rect x="616" y="326" width="3" height="1" fill="#C0C0C0"/>
<rect x="622" y="326" width="3" height="1" fill="#C0C0C0"/>
<rect x="628" y="326" width="3" height="1" fill="#C0C0C0"/>
<rect x="634" y="326" width="3" height="1" fill="#C0C0C0"/>
<rect x="640" y="326" width="3" height="1" fill="#C0C0C0"/>
<rect x="646" y="326" width="3" height="1" fill="#C0C0C0"/>
<rect x="652" y="326" width="3" height="1" fill="#C0C0C0"/>
<rect x="658" y="326" width="3" height="1" fill="#C0C0C0"/>
<rect x="664" y="326" width="3" height="1" fill="#C0C0C0"/>
<rect x="670" y="326" width="3" height="1" fill="#C0C0C0"/>
<rect x="676" y="326" width="3" height="1" fill="#C0C0C0"/>
<rect x="682" y="326" width="3" height="1" fill="#C0C0C0"/>
<rect x="688" y="326" width="3" height="1" fill="#C0C0C0"/>
<rect x="694" y="326" width="3" height="1" fill="#C0C0C0"/>
<rect x="700" y="326" width="3" height="1" fill="#C0C0C0"/>
<rect x="706" y="326" width="3" height="1" fill="#C0C0C0"/>
<rect x="712" y="326" width="3" height="1" fill="#C0C0C0"/>
<rect x="718" y="326" width="3" height="1" fill="#C0C0C0"/>
<rect x="724" y="326" width="3" height="1" fill="#C0C0C0"/>
<rect x="730" y="326" width="3" height="1" fill="#C0C0C0"/>
<rect x="736" y="326" width="3" height="1" fill="#C0C0C0"/>
<rect x="742" y="326" width="3" height="1" fill="#C0C0C0"/>
<rect x="748" y="326" width="3" height="1" fill="#C0C0C0"/>
<rect x="754" y="326" width="3" height="1" fill="#C0C0C0"/>
<rect x="760" y="326" width="3" height="1" fill="#C0C0C0"/>
<rect x="766" y="326" width="3" height="1" fill="#C0C0C0"/>
<rect x="772" y="326" width="3" height="1" fill="#C0C0C0"/>
<rect x="778" y="326" width="3" height="1" fill="#C0C0C0"/>
<rect x="784" y="326" width="3" height="1" fill="#C0C0C0"/>
<rect x="790" y="326" width="3" height="1" fill="#C0C0C0"/>
<rect x="796" y="326" width="3" height="1" fill="#C0C0C0"/>
<rect x="802" y="326" width="3" height="1" fill="#C0C0C0"/>
<rect x="808" y="326" width="3" height="1" fill="#C0C0C0"/>
<rect x="814" y="326" width="3" height="1" fill="#C0C0C0"/>
<rect x="820" y="326" width="3" height="1" fill="#C0C0C0"/>
<rect x="826" y="326" width="3" height="1" fill="#C0C0C0"/>
<rect x="832" y="326" width="3" height="1" fill="#C0C0C0"/>
<rect x="838" y="326" width="3" height="1" fill="#C0C0C0"/>
<rect x="844" y="326" width="3" height="1" fill="#C0C0C0"/>
<rect x="850" y="326" width="3" height="1" fill="#C0C0C0"/>
<rect x="856" y="326" width="3" height="1" fill="#C0C0C0"/>
<rect x="862" y="326" width="3" height="1" fill="#C0C0C0"/>
<rect x="868" y="326" width="3" height="1" fill="#C0C0C0"/>
<rect x="874" y="326" width="3" height="1" fill="#C0C0C0"/>
<rect x="880" y="326" width="3" height="1" fill="#C0C0C0"/>
<rect x="886" y="326" width="3" height="1" fill="#C0C0C0"/>
<rect x="892" y="326" width="3" height="1" fill="#C0C0C0"/>
<rect x="898" y="326" width="3" height="1" fill="#C0C0C0"/>
<rect x="904" y="326" width="3" height="1" fill="#C0C0C0"/>
<rect x="910" y="326" width="3" height="1" fill="#C0C0C0"/>
<rect x="916" y="326" width="3" height="1" fill="#C0C0C0"/>
<rect x="922" y="326" width="3" height="1" fill="#C0C0C0"/>
<rect x="928" y="326" width="3" height="1" fill="#C0C0C0"/>
<rect x="934" y="326" width="3" height="1" fill="#C0C0C0"/>
<rect x="940" y="326" width="3" height="1" fill="#C0C0C0"/>
<rect x="946" y="326" width="3" height="1" fill="#C0C0C0"/>
<rect x="952" y="326" width="3" height="1" fill="#C0C0C0"/>
<rect x="958" y="326" width="2" height="1" fill="#C0C0C0"/>
<path d="M140.5 310v2M141.5 308v2M143.5 305v2M145.5 302v2M146.5 300v2M164.5 303v2M167.5 299v2M170.5 295v2M180.5 298v2M181.5 300v2M183.5 303v2M185.5 306v2M186.5 308v2M323.5 317v2M324.5 315v2M325.5 313v2M326.5 311v2M327.5 309v2M328.5 307v2M329.5 305v2M330.5 303v2M371.5 324v2M372.5 322v2M373.5 320v2M374.5 318v2M375.5 316v2M376.5 314v2M377.5 312v2M378.5 310v2M471.5 313v2M567.5 297v2M735.5 295v2M772.5 303v2M773.5 305v2M774.5 307v2M775.5 309v2M776.5 311v2M777.5 313v2M778.5 315v2M779.5 316v2M780.5 314v2M781.5 312v2M782.5 310v2M783.5 308v2M784.5 306v2M785.5 304v2M786.5 302v2M811.5 293v3M812.5 296v5M813.5 301v4M814.5 305v5M815.5 310v5M816.5 315v5M817.5 320v4M818.5 324v5M819.5 329v3M820.5 329v2M821.5 327v2M822.5 325v2M824.5 322v2M825.5 320v2M826.5 318v2M877.5 309v2M881.5 304v2M24 280.5h6M19 281.5h5M30 281.5h4M17 282.5h2M34 282.5h4M15 283.5h2M38 283.5h4M13 284.5h2M42 284.5h4M11 285.5h2M46 285.5h4M723 285.5h1M9 286.5h2M50 286.5h3M721 286.5h2M724 286.5h2M7 287.5h2M53 287.5h2M720 287.5h1M726 287.5h1M5 288.5h2M55 288.5h2M718 288.5h2M727 288.5h1M3 289.5h2M57 289.5h2M716 289.5h2M728 289.5h2M59 290.5h9M714 290.5h2M730 290.5h1M68 291.5h2M712 291.5h2M731 291.5h1M70 292.5h2M709 292.5h3M732 292.5h1M72 293.5h1M571 293.5h1M707 293.5h2M733 293.5h1M73 294.5h2M171 294.5h2M570 294.5h1M572 294.5h1M705 294.5h2M734 294.5h1M809 294.5h2M75 295.5h5M173 295.5h3M569 295.5h1M573 295.5h1M704 295.5h1M807 295.5h2M80 296.5h5M176 296.5h2M568 296.5h1M574 296.5h2M682 296.5h3M702 296.5h2M805 296.5h2M85 297.5h3M104 297.5h5M169 297.5h1M178 297.5h2M555 297.5h1M576 297.5h1M678 297.5h4M685 297.5h3M700 297.5h2M736 297.5h1M803 297.5h2M88 298.5h2M96 298.5h8M109 298.5h3M168 298.5h1M554 298.5h1M556 298.5h2M577 298.5h1M586 298.5h3M666 298.5h12M688 298.5h2M696 298.5h4M737 298.5h1M760 298.5h5M801 298.5h2M90 299.5h6M112 299.5h2M147 299.5h5M553 299.5h1M558 299.5h2M566 299.5h1M578 299.5h1M582 299.5h4M589 299.5h2M664 299.5h2M690 299.5h6M738 299.5h1M755 299.5h5M765 299.5h2M800 299.5h1M899 299.5h9M114 300.5h2M152 300.5h4M552 300.5h1M560 300.5h1M565 300.5h1M579 300.5h3M591 300.5h2M634 300.5h4M661 300.5h3M739 300.5h2M753 300.5h2M767 300.5h2M798 300.5h2M898 300.5h1M116 301.5h2M156 301.5h2M166 301.5h1M551 301.5h1M561 301.5h2M564 301.5h1M593 301.5h2M630 301.5h4M638 301.5h4M656 301.5h5M741 301.5h2M752 301.5h1M769 301.5h2M787 301.5h5M796 301.5h2M896 301.5h2M118 302.5h1M158 302.5h2M165 302.5h1M182 302.5h1M331 302.5h1M550 302.5h1M563 302.5h1M595 302.5h5M624 302.5h6M642 302.5h14M743 302.5h2M750 302.5h2M771 302.5h1M792 302.5h4M883 302.5h2M895 302.5h1M119 303.5h1M160 303.5h1M332 303.5h1M530 303.5h3M549 303.5h1M600 303.5h24M745 303.5h2M748 303.5h2M882 303.5h1M885 303.5h3M894 303.5h1M120 304.5h2M130 304.5h2M144 304.5h1M161 304.5h2M333 304.5h1M526 304.5h4M533 304.5h2M548 304.5h1M747 304.5h1M888 304.5h2M892 304.5h2M122 305.5h1M126 305.5h4M132 305.5h1M163 305.5h1M184 305.5h1M334 305.5h1M523 305.5h3M535 305.5h2M546 305.5h2M890 305.5h2M123 306.5h3M133 306.5h1M335 306.5h1M506 306.5h2M522 306.5h1M537 306.5h2M542 306.5h4M880 306.5h1M134 307.5h1M142 307.5h1M200 307.5h8M336 307.5h1M490 307.5h6M502 307.5h4M508 307.5h1M521 307.5h1M539 307.5h3M879 307.5h1M135 308.5h1M194 308.5h6M208 308.5h8M224 308.5h8M337 308.5h1M486 308.5h4M496 308.5h6M509 308.5h1M520 308.5h1M878 308.5h1M136 309.5h1M190 309.5h4M216 309.5h8M232 309.5h13M274 309.5h4M290 309.5h11M338 309.5h1M379 309.5h1M475 309.5h11M510 309.5h2M519 309.5h1M851 309.5h13M137 310.5h1M187 310.5h3M245 310.5h2M270 310.5h4M278 310.5h4M286 310.5h4M301 310.5h2M339 310.5h1M380 310.5h1M474 310.5h1M512 310.5h1M518 310.5h1M850 310.5h1M864 310.5h6M138 311.5h1M247 311.5h2M258 311.5h12M282 311.5h4M303 311.5h2M340 311.5h2M381 311.5h1M473 311.5h1M513 311.5h1M517 311.5h1M848 311.5h2M870 311.5h4M876 311.5h1M139 312.5h1M249 312.5h2M254 312.5h4M305 312.5h2M342 312.5h2M382 312.5h2M472 312.5h1M514 312.5h1M516 312.5h1M847 312.5h1M874 312.5h2M251 313.5h3M307 313.5h5M344 313.5h1M384 313.5h1M515 313.5h1M846 313.5h1M312 314.5h5M345 314.5h2M385 314.5h1M844 314.5h2M317 315.5h2M347 315.5h5M386 315.5h1M470 315.5h1M843 315.5h1M319 316.5h2M352 316.5h6M387 316.5h5M469 316.5h1M842 316.5h1M321 317.5h2M358 317.5h4M392 317.5h5M468 317.5h1M827 317.5h1M841 317.5h1M362 318.5h2M397 318.5h2M466 318.5h2M828 318.5h2M840 318.5h1M364 319.5h1M399 319.5h2M462 319.5h4M830 319.5h2M838 319.5h2M365 320.5h1M401 320.5h2M418 320.5h6M432 320.5h6M459 320.5h3M832 320.5h1M837 320.5h1M366 321.5h2M403 321.5h3M416 321.5h2M424 321.5h8M438 321.5h4M457 321.5h2M833 321.5h2M836 321.5h1M368 322.5h1M406 322.5h4M413 322.5h3M442 322.5h4M455 322.5h2M835 322.5h1M369 323.5h1M410 323.5h3M446 323.5h4M453 323.5h2M370 324.5h1M450 324.5h3M823 324.5h1" fill="none" stroke="#1E90FF" stroke-width="1" shape-rendering="crispEdges"/>
</g>
<g clip-path="url(#c3)">
<path d="M51.5 464v2M54.5 458v2M57.5 452v2M181.5 451v2M184.5 445v2M229.5 451v2M310.5 449v2M314.5 443v2M357.5 439v2M360.5 433v2M388.5 441v2M391.5 435v2M394.5 429v2M397.5 424v2M401.5 418v2M731.5 477v2M734.5 471v2M736.5 466v2M739.5 460v2M775.5 453v2M778.5 448v2M813.5 451v2M816.5 445v2M411 411.5h1M412 412.5h1M407 413.5h1M413 413.5h1M405 414.5h2M451 416.5h1M402 417.5h1M416 417.5h1M450 417.5h1M452 417.5h1M417 418.5h1M418 419.5h1M447 421.5h1M455 421.5h1M446 422.5h1M456 422.5h1M398 423.5h1M422 423.5h1M445 423.5h1M457 423.5h1M423 424.5h1M424 425.5h1M441 427.5h1M460 427.5h1M363 428.5h2M440 428.5h1M461 428.5h1M365 429.5h1M428 429.5h2M439 429.5h1M462 429.5h1M430 430.5h1M86 431.5h3M369 431.5h2M393 431.5h1M81 432.5h2M92 432.5h1M361 432.5h1M371 432.5h1M466 432.5h1M80 433.5h1M93 433.5h1M195 433.5h1M434 433.5h1M436 433.5h1M467 433.5h1M94 434.5h1M194 434.5h1M435 434.5h1M468 434.5h1M76 435.5h1M193 435.5h1M375 435.5h1M75 436.5h1M199 436.5h1M376 436.5h2M74 437.5h1M98 437.5h1M200 437.5h1M390 437.5h1M472 437.5h1M99 438.5h1M140 438.5h2M189 438.5h1M201 438.5h1M321 438.5h1M325 438.5h1M347 438.5h1M358 438.5h1M473 438.5h1M100 439.5h1M142 439.5h1M188 439.5h1M320 439.5h1M326 439.5h1M348 439.5h2M381 439.5h1M474 439.5h1M136 440.5h1M187 440.5h1M319 440.5h1M327 440.5h1M382 440.5h2M819 440.5h1M72 441.5h1M104 441.5h1M123 441.5h2M134 441.5h2M205 441.5h2M818 441.5h1M820 441.5h1M71 442.5h1M105 442.5h2M122 442.5h1M146 442.5h1M207 442.5h1M315 442.5h1M344 442.5h1M353 442.5h1M478 442.5h1M70 443.5h1M128 443.5h2M147 443.5h1M331 443.5h1M343 443.5h1M354 443.5h1M387 443.5h1M479 443.5h1M130 444.5h1M148 444.5h1M185 444.5h1M211 444.5h2M235 444.5h1M332 444.5h2M342 444.5h1M355 444.5h1M480 444.5h1M824 444.5h2M110 445.5h1M213 445.5h1M234 445.5h1M239 445.5h1M826 445.5h1M111 446.5h1M118 446.5h1M152 446.5h1M233 446.5h1M240 446.5h2M484 446.5h2M68 447.5h1M112 447.5h1M117 447.5h1M153 447.5h2M217 447.5h2M245 447.5h3M257 447.5h3M337 447.5h2M486 447.5h1M496 447.5h3M779 447.5h1M815 447.5h1M830 447.5h1M60 448.5h3M66 448.5h2M116 448.5h1M158 448.5h3M164 448.5h2M219 448.5h1M251 448.5h3M311 448.5h1M339 448.5h1M490 448.5h3M502 448.5h1M747 448.5h1M831 448.5h2M166 449.5h1M263 449.5h2M503 449.5h2M746 449.5h1M748 449.5h1M783 449.5h2M170 450.5h2M182 450.5h1M230 450.5h1M265 450.5h1M514 450.5h2M785 450.5h1M874 450.5h1M58 451.5h1M172 451.5h1M223 451.5h1M299 451.5h2M508 451.5h3M516 451.5h1M836 451.5h2M872 451.5h2M224 452.5h2M269 452.5h2M301 452.5h1M752 452.5h2M789 452.5h1M838 452.5h1M878 452.5h2M176 453.5h1M271 453.5h1M305 453.5h1M520 453.5h1M744 453.5h1M754 453.5h1M790 453.5h2M812 453.5h1M867 453.5h2M880 453.5h1M177 454.5h2M306 454.5h2M521 454.5h2M743 454.5h1M842 454.5h1M866 454.5h1M275 455.5h3M294 455.5h2M600 455.5h1M604 455.5h2M742 455.5h1M758 455.5h1M774 455.5h1M843 455.5h2M884 455.5h1M281 456.5h1M293 456.5h1M526 456.5h3M598 456.5h2M606 456.5h1M759 456.5h2M795 456.5h2M809 456.5h1M885 456.5h2M55 457.5h1M282 457.5h2M287 457.5h1M532 457.5h1M594 457.5h1M610 457.5h3M797 457.5h1M808 457.5h1M848 457.5h2M862 457.5h1M288 458.5h2M533 458.5h2M592 458.5h2M764 458.5h2M807 458.5h1M850 458.5h1M861 458.5h1M890 458.5h3M616 459.5h1M740 459.5h1M766 459.5h1M772 459.5h1M801 459.5h2M854 459.5h3M860 459.5h1M538 460.5h3M617 460.5h2M770 460.5h2M803 460.5h1M896 460.5h1M544 461.5h3M550 461.5h2M588 461.5h1M897 461.5h2M552 462.5h1M556 462.5h1M587 462.5h1M622 462.5h1M902 462.5h3M52 463.5h1M557 463.5h2M586 463.5h1M623 463.5h2M562 465.5h3M628 465.5h3M737 465.5h1M582 466.5h1M634 466.5h3M568 467.5h2M580 467.5h2M640 467.5h2M570 468.5h1M574 468.5h3M642 468.5h1M47 469.5h1M646 469.5h3M46 470.5h1M652 470.5h2M45 471.5h1M654 471.5h1M658 472.5h3M34 473.5h2M39 473.5h3M664 473.5h3M670 473.5h2M733 473.5h1M33 474.5h1M672 474.5h1M676 474.5h3M3 475.5h3M9 475.5h3M15 475.5h1M29 475.5h1M682 475.5h3M16 476.5h2M21 476.5h3M27 476.5h2M688 476.5h3M694 476.5h2M696 477.5h1M700 477.5h3M706 478.5h3M712 478.5h3M718 478.5h3M724 478.5h3M730 478.5h1" fill="none" stroke="#F5DEB3" stroke-width="1" shape-rendering="crispEdges"/>
<path d="M15.5 424v2M269.5 461v2M460.5 468v2M466.5 457v2M470.5 450v2M473.5 445v2M631.5 459v2M634.5 454v2M796.5 461v2M800.5 455v2M821.5 454v2M825.5 448v2M845.5 448v2M849.5 442v2M19 419.5h1M18 420.5h1M20 420.5h1M23 424.5h1M24 425.5h1M14 426.5h1M25 426.5h1M29 429.5h1M9 430.5h3M30 430.5h2M3 431.5h3M35 433.5h1M36 434.5h1M37 435.5h1M41 439.5h1M706 439.5h2M42 440.5h1M705 440.5h1M711 440.5h3M853 440.5h2M907 440.5h1M43 441.5h1M701 441.5h1M717 441.5h1M850 441.5h1M855 441.5h1M906 441.5h1M699 442.5h2M718 442.5h2M47 443.5h1M477 443.5h3M723 443.5h1M859 443.5h1M48 444.5h1M474 444.5h1M724 444.5h2M860 444.5h2M49 445.5h1M483 445.5h1M695 445.5h1M828 445.5h1M883 445.5h2M902 445.5h1M179 446.5h2M484 446.5h2M675 446.5h1M694 446.5h1M829 446.5h2M882 446.5h1M901 446.5h1M53 447.5h1M181 447.5h1M651 447.5h2M670 447.5h2M676 447.5h2M693 447.5h1M729 447.5h2M846 447.5h1M865 447.5h1M888 447.5h2M900 447.5h1M54 448.5h2M507 448.5h2M653 448.5h1M669 448.5h1M731 448.5h1M834 448.5h3M866 448.5h1M890 448.5h1M894 448.5h3M175 449.5h1M185 449.5h2M489 449.5h2M509 449.5h1M664 449.5h2M688 449.5h2M867 449.5h1M174 450.5h1M187 450.5h1M491 450.5h1M513 450.5h1M647 450.5h1M657 450.5h2M663 450.5h1M681 450.5h2M687 450.5h1M824 450.5h1M840 450.5h1M879 450.5h1M59 451.5h2M173 451.5h1M191 451.5h1M495 451.5h1M502 451.5h2M514 451.5h2M646 451.5h1M659 451.5h1M683 451.5h1M735 451.5h1M803 451.5h2M841 451.5h2M871 451.5h1M878 451.5h1M61 452.5h1M192 452.5h2M469 452.5h1M496 452.5h2M501 452.5h1M645 452.5h1M736 452.5h1M805 452.5h1M872 452.5h1M877 452.5h1M197 453.5h3M203 453.5h2M519 453.5h1M555 453.5h2M572 453.5h3M578 453.5h3M635 453.5h1M639 453.5h3M737 453.5h1M755 453.5h1M771 453.5h2M873 453.5h1M65 454.5h2M169 454.5h1M205 454.5h1M275 454.5h1M520 454.5h1M554 454.5h1M568 454.5h1M753 454.5h2M773 454.5h1M809 454.5h2M67 455.5h1M168 455.5h1M209 455.5h1M274 455.5h1M521 455.5h1M560 455.5h2M566 455.5h2M584 455.5h1M741 455.5h1M759 455.5h2M767 455.5h1M811 455.5h1M167 456.5h1M210 456.5h2M215 456.5h1M273 456.5h1M279 456.5h2M467 456.5h1M525 456.5h3M531 456.5h2M562 456.5h1M585 456.5h2M742 456.5h2M749 456.5h1M761 456.5h1M765 456.5h2M777 456.5h2M815 456.5h1M820 456.5h1M71 457.5h2M155 457.5h2M216 457.5h2M281 457.5h1M339 457.5h3M533 457.5h1M747 457.5h2M779 457.5h1M799 457.5h1M816 457.5h2M73 458.5h1M157 458.5h1M221 458.5h2M345 458.5h3M551 458.5h1M590 458.5h1M161 459.5h1M223 459.5h1M285 459.5h3M537 459.5h2M550 459.5h1M591 459.5h2M783 459.5h2M77 460.5h2M151 460.5h1M162 460.5h2M270 460.5h1M334 460.5h2M351 460.5h2M539 460.5h1M549 460.5h1M785 460.5h1M79 461.5h1M150 461.5h1M227 461.5h3M291 461.5h3M333 461.5h1M353 461.5h1M543 461.5h3M596 461.5h2M610 461.5h1M614 461.5h2M630 461.5h1M789 461.5h1M114 462.5h2M119 462.5h1M149 462.5h1M233 462.5h1M297 462.5h1M464 462.5h1M598 462.5h1M608 462.5h2M616 462.5h1M620 462.5h1M790 462.5h2M83 463.5h3M113 463.5h1M120 463.5h2M234 463.5h2M298 463.5h2M303 463.5h3M309 463.5h3M329 463.5h1M357 463.5h3M463 463.5h1M602 463.5h3M621 463.5h2M795 463.5h1M89 464.5h1M109 464.5h1M125 464.5h2M239 464.5h3M315 464.5h2M328 464.5h1M462 464.5h1M90 465.5h2M107 465.5h2M127 465.5h1M144 465.5h2M245 465.5h3M265 465.5h1M317 465.5h1M327 465.5h1M363 465.5h3M626 465.5h1M628 465.5h1M95 466.5h3M102 466.5h2M143 466.5h1M251 466.5h2M264 466.5h1M321 466.5h1M369 466.5h1M627 466.5h1M101 467.5h1M131 467.5h3M253 467.5h1M263 467.5h1M322 467.5h2M370 467.5h2M375 467.5h3M381 467.5h3M137 468.5h1M257 468.5h1M387 468.5h3M429 468.5h3M138 469.5h2M258 469.5h2M393 469.5h1M425 469.5h1M435 469.5h3M394 470.5h2M399 470.5h1M424 470.5h1M441 470.5h1M459 470.5h1M400 471.5h2M405 471.5h3M423 471.5h1M442 471.5h2M447 471.5h1M454 471.5h2M411 472.5h3M448 472.5h2M453 472.5h1M417 473.5h3" fill="none" stroke="#9ACD32" stroke-width="1" shape-rendering="crispEdges"/>
<path d="M7.5 402v2M13.5 395v2M17.5 390v2M52.5 384v2M54.5 387v2M56.5 390v2M58.5 393v2M61.5 397v2M65.5 402v2M167.5 421v2M468.5 385v2M470.5 388v2M472.5 391v2M474.5 394v2M476.5 397v2M479.5 401v2M482.5 405v2M484.5 408v2M487.5 412v2M490.5 416v2M732.5 370v2M735.5 374v2M738.5 378v2M740.5 381v2M743.5 385v2M746.5 389v2M748.5 392v2M751.5 396v2M754.5 400v2M757.5 404v2M761.5 409v2M731 369.5h1M730 370.5h1M728 371.5h2M727 372.5h1M733 372.5h1M726 373.5h1M734 373.5h1M724 374.5h2M723 375.5h1M722 376.5h1M736 376.5h1M42 377.5h2M456 377.5h4M721 377.5h1M737 377.5h1M40 378.5h2M44 378.5h2M451 378.5h5M460 378.5h1M720 378.5h1M37 379.5h3M46 379.5h1M449 379.5h2M461 379.5h1M718 379.5h2M34 380.5h3M47 380.5h1M447 380.5h2M462 380.5h2M717 380.5h1M739 380.5h1M30 381.5h4M48 381.5h2M445 381.5h2M464 381.5h1M716 381.5h1M27 382.5h3M50 382.5h1M442 382.5h3M465 382.5h1M715 382.5h1M26 383.5h1M51 383.5h1M440 383.5h2M466 383.5h1M714 383.5h1M741 383.5h1M24 384.5h2M437 384.5h3M467 384.5h1M713 384.5h1M742 384.5h1M23 385.5h1M434 385.5h3M712 385.5h1M22 386.5h1M53 386.5h1M430 386.5h4M710 386.5h2M20 387.5h2M424 387.5h6M469 387.5h1M709 387.5h1M744 387.5h1M19 388.5h1M419 388.5h5M708 388.5h1M745 388.5h1M18 389.5h1M55 389.5h1M418 389.5h1M707 389.5h1M417 390.5h1M471 390.5h1M706 390.5h1M416 391.5h1M705 391.5h1M747 391.5h1M16 392.5h1M57 392.5h1M414 392.5h2M704 392.5h1M15 393.5h1M413 393.5h1M473 393.5h1M703 393.5h1M14 394.5h1M412 394.5h1M702 394.5h1M749 394.5h1M59 395.5h1M411 395.5h1M701 395.5h1M750 395.5h1M60 396.5h1M410 396.5h1M475 396.5h1M700 396.5h1M12 397.5h1M409 397.5h1M699 397.5h1M11 398.5h1M408 398.5h1M698 398.5h1M752 398.5h1M10 399.5h1M62 399.5h1M407 399.5h1M477 399.5h1M697 399.5h1M753 399.5h1M9 400.5h1M63 400.5h1M406 400.5h1M478 400.5h1M696 400.5h1M8 401.5h1M64 401.5h1M405 401.5h1M695 401.5h1M404 402.5h1M694 402.5h1M755 402.5h1M403 403.5h1M480 403.5h1M693 403.5h1M756 403.5h1M6 404.5h1M66 404.5h1M402 404.5h1M481 404.5h1M692 404.5h1M5 405.5h1M67 405.5h2M96 405.5h13M401 405.5h1M691 405.5h1M4 406.5h1M69 406.5h3M90 406.5h6M109 406.5h2M138 406.5h6M400 406.5h1M690 406.5h1M758 406.5h1M3 407.5h1M72 407.5h2M86 407.5h4M111 407.5h2M136 407.5h2M144 407.5h4M398 407.5h2M483 407.5h1M689 407.5h1M759 407.5h1M74 408.5h12M113 408.5h2M133 408.5h3M148 408.5h2M397 408.5h1M688 408.5h1M760 408.5h1M115 409.5h18M150 409.5h1M396 409.5h1M686 409.5h2M151 410.5h1M395 410.5h1M485 410.5h1M685 410.5h1M152 411.5h2M394 411.5h1M486 411.5h1M684 411.5h1M762 411.5h1M154 412.5h1M392 412.5h2M683 412.5h1M763 412.5h1M155 413.5h2M391 413.5h1M682 413.5h1M764 413.5h2M157 414.5h2M390 414.5h1M488 414.5h1M681 414.5h1M766 414.5h1M159 415.5h2M388 415.5h2M489 415.5h1M680 415.5h1M767 415.5h1M161 416.5h2M386 416.5h2M679 416.5h1M768 416.5h2M163 417.5h1M384 417.5h2M678 417.5h1M770 417.5h1M164 418.5h1M381 418.5h3M491 418.5h1M677 418.5h1M771 418.5h2M165 419.5h1M378 419.5h3M492 419.5h2M676 419.5h1M773 419.5h2M166 420.5h1M376 420.5h2M494 420.5h2M675 420.5h1M775 420.5h2M373 421.5h3M496 421.5h1M674 421.5h1M777 421.5h2M371 422.5h2M497 422.5h2M673 422.5h1M779 422.5h2M168 423.5h1M370 423.5h1M499 423.5h1M672 423.5h1M781 423.5h2M169 424.5h1M368 424.5h2M500 424.5h1M670 424.5h2M783 424.5h2M170 425.5h1M367 425.5h1M501 425.5h1M669 425.5h1M785 425.5h2M171 426.5h2M366 426.5h1M502 426.5h2M668 426.5h1M787 426.5h2M173 427.5h3M364 427.5h2M504 427.5h1M667 427.5h1M789 427.5h3M176 428.5h2M363 428.5h1M505 428.5h1M666 428.5h1M792 428.5h2M178 429.5h3M259 429.5h9M361 429.5h2M506 429.5h1M665 429.5h1M794 429.5h3M181 430.5h2M257 430.5h2M268 430.5h1M360 430.5h1M507 430.5h1M664 430.5h1M797 430.5h2M183 431.5h2M256 431.5h1M269 431.5h1M358 431.5h2M508 431.5h2M662 431.5h2M799 431.5h2M185 432.5h2M254 432.5h2M270 432.5h2M328 432.5h5M356 432.5h2M510 432.5h2M661 432.5h1M801 432.5h2M187 433.5h11M252 433.5h2M272 433.5h1M323 433.5h5M333 433.5h2M352 433.5h4M512 433.5h1M660 433.5h1M803 433.5h1M198 434.5h4M251 434.5h1M273 434.5h1M322 434.5h1M335 434.5h2M346 434.5h6M513 434.5h2M659 434.5h1M804 434.5h2M202 435.5h4M249 435.5h2M274 435.5h1M321 435.5h1M337 435.5h2M342 435.5h4M515 435.5h1M658 435.5h1M806 435.5h1M206 436.5h4M247 436.5h2M275 436.5h1M320 436.5h1M339 436.5h3M516 436.5h2M657 436.5h1M807 436.5h1M210 437.5h3M245 437.5h2M276 437.5h2M318 437.5h2M518 437.5h2M656 437.5h1M808 437.5h2M213 438.5h3M242 438.5h3M278 438.5h2M317 438.5h1M520 438.5h1M654 438.5h2M810 438.5h1M816 438.5h4M216 439.5h2M240 439.5h2M280 439.5h1M316 439.5h1M521 439.5h2M653 439.5h1M811 439.5h5M820 439.5h2M218 440.5h3M237 440.5h3M281 440.5h2M315 440.5h1M523 440.5h1M652 440.5h1M822 440.5h2M221 441.5h3M234 441.5h3M283 441.5h2M313 441.5h2M524 441.5h2M579 441.5h3M651 441.5h1M824 441.5h1M224 442.5h2M230 442.5h4M285 442.5h3M311 442.5h2M526 442.5h2M577 442.5h2M582 442.5h4M650 442.5h1M825 442.5h2M226 443.5h4M288 443.5h2M296 443.5h8M309 443.5h2M528 443.5h1M576 443.5h1M586 443.5h3M649 443.5h1M827 443.5h1M290 444.5h6M304 444.5h5M529 444.5h2M574 444.5h2M589 444.5h3M648 444.5h1M828 444.5h2M531 445.5h2M572 445.5h2M592 445.5h2M646 445.5h2M830 445.5h2M533 446.5h3M570 446.5h2M594 446.5h11M645 446.5h1M832 446.5h1M858 446.5h3M907 446.5h1M536 447.5h2M568 447.5h2M605 447.5h2M644 447.5h1M833 447.5h2M856 447.5h2M861 447.5h3M905 447.5h2M538 448.5h3M565 448.5h3M607 448.5h2M642 448.5h2M835 448.5h2M853 448.5h3M864 448.5h2M903 448.5h2M541 449.5h2M562 449.5h3M609 449.5h2M640 449.5h2M837 449.5h2M850 449.5h3M866 449.5h3M901 449.5h2M543 450.5h2M558 450.5h4M611 450.5h2M637 450.5h3M839 450.5h2M848 450.5h2M869 450.5h3M898 450.5h3M545 451.5h2M552 451.5h6M613 451.5h3M635 451.5h2M841 451.5h2M845 451.5h3M872 451.5h2M894 451.5h4M547 452.5h5M616 452.5h2M633 452.5h2M843 452.5h2M874 452.5h20M618 453.5h3M632 453.5h1M621 454.5h3M630 454.5h2M624 455.5h2M628 455.5h2M626 456.5h2" fill="none" stroke="#FF0000" stroke-width="1" shape-rendering="crispEdges"/>
</g>
<rect x="2" y="2" width="959" height="1" fill="#000080"/>
<rect x="2" y="241" width="959" height="1" fill="#000080"/>
<rect x="2" y="2" width="1" height="240" fill="#000080"/>
<rect x="960" y="2" width="1" height="240" fill="#000080"/>
<rect x="2" y="243" width="959" height="1" fill="#000080"/>
<rect x="2" y="362" width="959" height="1" fill="#000080"/>
<rect x="2" y="243" width="1" height="120" fill="#000080"/>
<rect x="960" y="243" width="1" height="120" fill="#000080"/>
<rect x="2" y="364" width="959" height="1" fill="#000080"/>
<rect x="2" y="482" width="959" height="1" fill="#000080"/>
<rect x="2" y="364" width="1" height="119" fill="#000080"/>
<rect x="960" y="364" width="1" height="119" fill="#000080"/>
<rect x="961" y="28" width="2" height="1" fill="#000080"/>
<text x="966.15" y="31" fill="#000080" stroke="#000080" stroke-width="0.18" font-size="9.8" textLength="27.9" lengthAdjust="spacingAndGlyphs" text-anchor="start">1.1265</text>
<rect x="961" y="63" width="2" height="1" fill="#000080"/>
<text x="966.15" y="66" fill="#000080" stroke="#000080" stroke-width="0.18" font-size="9.8" textLength="27.9" lengthAdjust="spacingAndGlyphs" text-anchor="start">1.1215</text>
<rect x="961" y="98" width="2" height="1" fill="#000080"/>
<text x="966.13" y="101" fill="#000080" stroke="#000080" stroke-width="0.18" font-size="9.8" textLength="27.9" lengthAdjust="spacingAndGlyphs" text-anchor="start">1.1165</text>
<rect x="961" y="132" width="2" height="1" fill="#000080"/>
<text x="966.12" y="135" fill="#000080" stroke="#000080" stroke-width="0.18" font-size="9.8" textLength="27.9" lengthAdjust="spacingAndGlyphs" text-anchor="start">1.1115</text>
<rect x="961" y="167" width="2" height="1" fill="#000080"/>
<rect x="961" y="202" width="2" height="1" fill="#000080"/>
<text x="966.15" y="205" fill="#000080" stroke="#000080" stroke-width="0.18" font-size="9.8" textLength="27.9" lengthAdjust="spacingAndGlyphs" text-anchor="start">1.1015</text>
<rect x="961" y="237" width="2" height="1" fill="#000080"/>
<rect x="961" y="245" width="2" height="1" fill="#000080"/>
<text x="963.94" y="254" fill="#000080" stroke="#000080" stroke-width="0.18" font-size="9.8" textLength="15.39" lengthAdjust="spacingAndGlyphs" text-anchor="start">100</text>
<text x="962.83" y="283" fill="#000080" stroke="#000080" stroke-width="0.18" font-size="9.8" textLength="10.14" lengthAdjust="spacingAndGlyphs" text-anchor="start">70</text>
<text x="962.93" y="329" fill="#000080" stroke="#000080" stroke-width="0.18" font-size="9.8" textLength="10.05" lengthAdjust="spacingAndGlyphs" text-anchor="start">30</text>
<rect x="961" y="361" width="2" height="1" fill="#000080"/>
<text x="964.34" y="359" fill="#000080" stroke="#000080" stroke-width="0.18" font-size="9.8" textLength="4.77" lengthAdjust="spacingAndGlyphs" text-anchor="start">0</text>
<rect x="961" y="366" width="2" height="1" fill="#000080"/>
<text x="964.03" y="375" fill="#000080" stroke="#000080" stroke-width="0.18" font-size="9.8" textLength="10.25" lengthAdjust="spacingAndGlyphs" text-anchor="start">66</text>
<rect x="961" y="481" width="2" height="1" fill="#000080"/>
<text x="964.34" y="479" fill="#000080" stroke="#000080" stroke-width="0.18" font-size="9.8" textLength="4.77" lengthAdjust="spacingAndGlyphs" text-anchor="start">0</text>
<rect x="962" y="152" width="36" height="11" fill="#000080"/>
<text x="966.15" y="161" fill="#fff" stroke="#fff" stroke-width="0.18" font-size="9.8" textLength="28.0" lengthAdjust="spacingAndGlyphs" text-anchor="start">1.1079</text>
<rect x="962" y="51" width="36" height="11" fill="#FF0000"/>
<text x="966.15" y="60" fill="#fff" stroke="#fff" stroke-width="0.18" font-size="9.8" textLength="27.9" lengthAdjust="spacingAndGlyphs" text-anchor="start">1.1223</text>
<rect x="962" y="98" width="36" height="11" fill="#0000FF"/>
<text x="966.13" y="107" fill="#fff" stroke="#fff" stroke-width="0.18" font-size="9.8" textLength="27.9" lengthAdjust="spacingAndGlyphs" text-anchor="start">1.1156</text>
<rect x="962" y="110" width="36" height="11" fill="#0000FF"/>
<text x="966.13" y="119" fill="#fff" stroke="#fff" stroke-width="0.18" font-size="9.8" textLength="27.9" lengthAdjust="spacingAndGlyphs" text-anchor="start">1.1138</text>
<rect x="962" y="144" width="36" height="11" fill="#FF0000"/>
<text x="966.15" y="153" fill="#fff" stroke="#fff" stroke-width="0.18" font-size="9.8" textLength="28.0" lengthAdjust="spacingAndGlyphs" text-anchor="start">1.1089</text>
<rect x="962" y="159" width="36" height="11" fill="#FF0000"/>
<text x="966.15" y="168" fill="#fff" stroke="#fff" stroke-width="0.18" font-size="9.8" textLength="27.9" lengthAdjust="spacingAndGlyphs" text-anchor="start">1.1068</text>
<rect x="962" y="191" width="36" height="11" fill="#0000FF"/>
<text x="966.15" y="200" fill="#fff" stroke="#fff" stroke-width="0.18" font-size="9.8" textLength="28.0" lengthAdjust="spacingAndGlyphs" text-anchor="start">1.1022</text>
<rect x="962" y="214" width="36" height="11" fill="#0000FF"/>
<text x="966.15" y="223" fill="#fff" stroke="#fff" stroke-width="0.18" font-size="9.8" textLength="27.9" lengthAdjust="spacingAndGlyphs" text-anchor="start">1.0990</text>
<rect x="962" y="229" width="36" height="11" fill="#0000FF"/>
<text x="966.15" y="238" fill="#fff" stroke="#fff" stroke-width="0.18" font-size="9.8" textLength="27.9" lengthAdjust="spacingAndGlyphs" text-anchor="start">1.0968</text>
<rect x="6" y="9" width="7" height="1" fill="#000080"/>
<rect x="7" y="10" width="5" height="1" fill="#000080"/>
<rect x="8" y="11" width="3" height="1" fill="#000080"/>
<rect x="9" y="12" width="1" height="1" fill="#000080"/>
<text x="17.94" y="14" fill="#000080" stroke="#000080" stroke-width="0.18" font-size="9.8" textLength="53.46" lengthAdjust="spacingAndGlyphs" text-anchor="start">EURUSD,H1</text>
<text x="6.98" y="256" fill="#000080" stroke="#000080" stroke-width="0.18" font-size="9.8" textLength="32.57" lengthAdjust="spacingAndGlyphs" text-anchor="start">RSI(14)</text>
<text x="41.87" y="256" fill="#000080" stroke="#000080" stroke-width="0.18" font-size="9.8" textLength="33.27" lengthAdjust="spacingAndGlyphs" text-anchor="start">53.1087</text>
<text x="8.0" y="377" fill="#000080" stroke="#000080" stroke-width="0.18" font-size="9.8" textLength="34.53" lengthAdjust="spacingAndGlyphs" text-anchor="start">ADX(14)</text>
<text x="45.03" y="377" fill="#000080" stroke="#000080" stroke-width="0.18" font-size="9.8" textLength="33.07" lengthAdjust="spacingAndGlyphs" text-anchor="start">20.7413</text>
<text x="81.8" y="377" fill="#000080" stroke="#000080" stroke-width="0.18" font-size="9.8" textLength="53.16" lengthAdjust="spacingAndGlyphs" text-anchor="start">+DI:23.3301</text>
<text x="137.6" y="377" fill="#000080" stroke="#000080" stroke-width="0.18" font-size="9.8" textLength="45.76" lengthAdjust="spacingAndGlyphs" text-anchor="start">-DI:9.9605</text>
<rect x="3" y="483" width="1" height="3" fill="#000080"/>
<text x="2.14" y="495" fill="#000080" stroke="#000080" stroke-width="0.18" font-size="9.8" textLength="49.78" lengthAdjust="spacingAndGlyphs" text-anchor="start">29 Jun 2015</text>
<rect x="67" y="483" width="1" height="3" fill="#000080"/>
<text x="66.23" y="495" fill="#000080" stroke="#000080" stroke-width="0.18" font-size="9.8" textLength="52.87" lengthAdjust="spacingAndGlyphs" text-anchor="start">30 Jun 02:00</text>
<rect x="131" y="483" width="1" height="3" fill="#000080"/>
<text x="130.23" y="495" fill="#000080" stroke="#000080" stroke-width="0.18" font-size="9.8" textLength="52.87" lengthAdjust="spacingAndGlyphs" text-anchor="start">30 Jun 10:00</text>
<rect x="195" y="483" width="1" height="3" fill="#000080"/>
<text x="194.23" y="495" fill="#000080" stroke="#000080" stroke-width="0.18" font-size="9.8" textLength="52.87" lengthAdjust="spacingAndGlyphs" text-anchor="start">30 Jun 18:00</text>
<rect x="259" y="483" width="1" height="3" fill="#000080"/>
<text x="257.94" y="495" fill="#000080" stroke="#000080" stroke-width="0.18" font-size="9.8" textLength="44.98" lengthAdjust="spacingAndGlyphs" text-anchor="start">1 Jul 02:00</text>
<rect x="323" y="483" width="1" height="3" fill="#000080"/>
<text x="321.94" y="495" fill="#000080" stroke="#000080" stroke-width="0.18" font-size="9.8" textLength="44.98" lengthAdjust="spacingAndGlyphs" text-anchor="start">1 Jul 10:00</text>
<rect x="387" y="483" width="1" height="3" fill="#000080"/>
<text x="385.94" y="495" fill="#000080" stroke="#000080" stroke-width="0.18" font-size="9.8" textLength="44.98" lengthAdjust="spacingAndGlyphs" text-anchor="start">1 Jul 18:00</text>
<rect x="451" y="483" width="1" height="3" fill="#000080"/>
<text x="450.13" y="495" fill="#000080" stroke="#000080" stroke-width="0.18" font-size="9.8" textLength="44.79" lengthAdjust="spacingAndGlyphs" text-anchor="start">2 Jul 02:00</text>
<rect x="515" y="483" width="1" height="3" fill="#000080"/>
<text x="514.13" y="495" fill="#000080" stroke="#000080" stroke-width="0.18" font-size="9.8" textLength="44.79" lengthAdjust="spacingAndGlyphs" text-anchor="start">2 Jul 10:00</text>
<rect x="579" y="483" width="1" height="3" fill="#000080"/>
<text x="578.13" y="495" fill="#000080" stroke="#000080" stroke-width="0.18" font-size="9.8" textLength="44.79" lengthAdjust="spacingAndGlyphs" text-anchor="start">2 Jul 18:00</text>
<rect x="643" y="483" width="1" height="3" fill="#000080"/>
<text x="642.23" y="495" fill="#000080" stroke="#000080" stroke-width="0.18" font-size="9.8" textLength="44.7" lengthAdjust="spacingAndGlyphs" text-anchor="start">3 Jul 02:00</text>
<rect x="707" y="483" width="1" height="3" fill="#000080"/>
<text x="706.23" y="495" fill="#000080" stroke="#000080" stroke-width="0.18" font-size="9.8" textLength="44.7" lengthAdjust="spacingAndGlyphs" text-anchor="start">3 Jul 10:00</text>
<rect x="771" y="483" width="1" height="3" fill="#000080"/>
<text x="770.23" y="495" fill="#000080" stroke="#000080" stroke-width="0.18" font-size="9.8" textLength="44.7" lengthAdjust="spacingAndGlyphs" text-anchor="start">3 Jul 18:00</text>
<rect x="835" y="483" width="1" height="3" fill="#000080"/>
<text x="834.13" y="495" fill="#000080" stroke="#000080" stroke-width="0.18" font-size="9.8" textLength="44.79" lengthAdjust="spacingAndGlyphs" text-anchor="start">6 Jul 02:00</text>
<rect x="899" y="483" width="1" height="3" fill="#000080"/>
<text x="898.13" y="495" fill="#000080" stroke="#000080" stroke-width="0.18" font-size="9.8" textLength="44.79" lengthAdjust="spacingAndGlyphs" text-anchor="start">6 Jul 10:00</text>
<g style="mix-blend-mode:multiply"><path d="M907.2 150.0 C908.0 148.3 910.3 143.2 912.0 139.6 C913.7 136.0 915.6 132.0 917.6 128.4 C919.6 124.8 922.4 120.1 924.0 118.0 C925.6 115.9 925.9 116.5 927.2 115.6 C928.5 114.7 930.1 113.7 932.0 112.4 C933.9 111.1 936.5 108.8 938.4 107.6 C940.3 106.4 941.6 105.7 943.2 105.2 C944.8 104.7 946.5 104.3 948.0 104.4 C949.5 104.5 950.9 105.1 952.0 106.0 C953.1 106.9 953.7 108.1 954.4 110.0 C955.1 111.9 955.3 114.7 956.0 117.2 C956.7 119.7 957.6 122.3 958.4 125.2 C959.2 128.1 960.0 131.1 960.8 134.8 C961.6 138.5 962.4 143.3 963.2 147.6 C964.0 151.9 964.9 156.7 965.6 160.4 C966.3 164.1 966.5 166.7 967.2 170.0 C967.9 173.3 969.0 176.3 970.0 180.0 C971.0 183.7 972.0 186.7 973.5 192.0 C975.0 197.3 978.1 208.7 979.0 212.0 M979 212 C973.5 210 967.5 205.5 964.6 199.4 C969.5 200.8 975 206 978 210.5 M979 212 L986.4 193.3" transform="translate(3,3)" fill="none" stroke="#000" stroke-opacity="0.35" stroke-width="3" stroke-linecap="round" stroke-linejoin="round" filter="url(#sh2)"/></g>
<path d="M907.2 150.0 C908.0 148.3 910.3 143.2 912.0 139.6 C913.7 136.0 915.6 132.0 917.6 128.4 C919.6 124.8 922.4 120.1 924.0 118.0 C925.6 115.9 925.9 116.5 927.2 115.6 C928.5 114.7 930.1 113.7 932.0 112.4 C933.9 111.1 936.5 108.8 938.4 107.6 C940.3 106.4 941.6 105.7 943.2 105.2 C944.8 104.7 946.5 104.3 948.0 104.4 C949.5 104.5 950.9 105.1 952.0 106.0 C953.1 106.9 953.7 108.1 954.4 110.0 C955.1 111.9 955.3 114.7 956.0 117.2 C956.7 119.7 957.6 122.3 958.4 125.2 C959.2 128.1 960.0 131.1 960.8 134.8 C961.6 138.5 962.4 143.3 963.2 147.6 C964.0 151.9 964.9 156.7 965.6 160.4 C966.3 164.1 966.5 166.7 967.2 170.0 C967.9 173.3 969.0 176.3 970.0 180.0 C971.0 183.7 972.0 186.7 973.5 192.0 C975.0 197.3 978.1 208.7 979.0 212.0 M979 212 C973.5 210 967.5 205.5 964.6 199.4 C969.5 200.8 975 206 978 210.5 M979 212 L986.4 193.3" fill="none" stroke="#F01010" stroke-width="2.2" stroke-linecap="round" stroke-linejoin="round"/>
</svg></body></html>
